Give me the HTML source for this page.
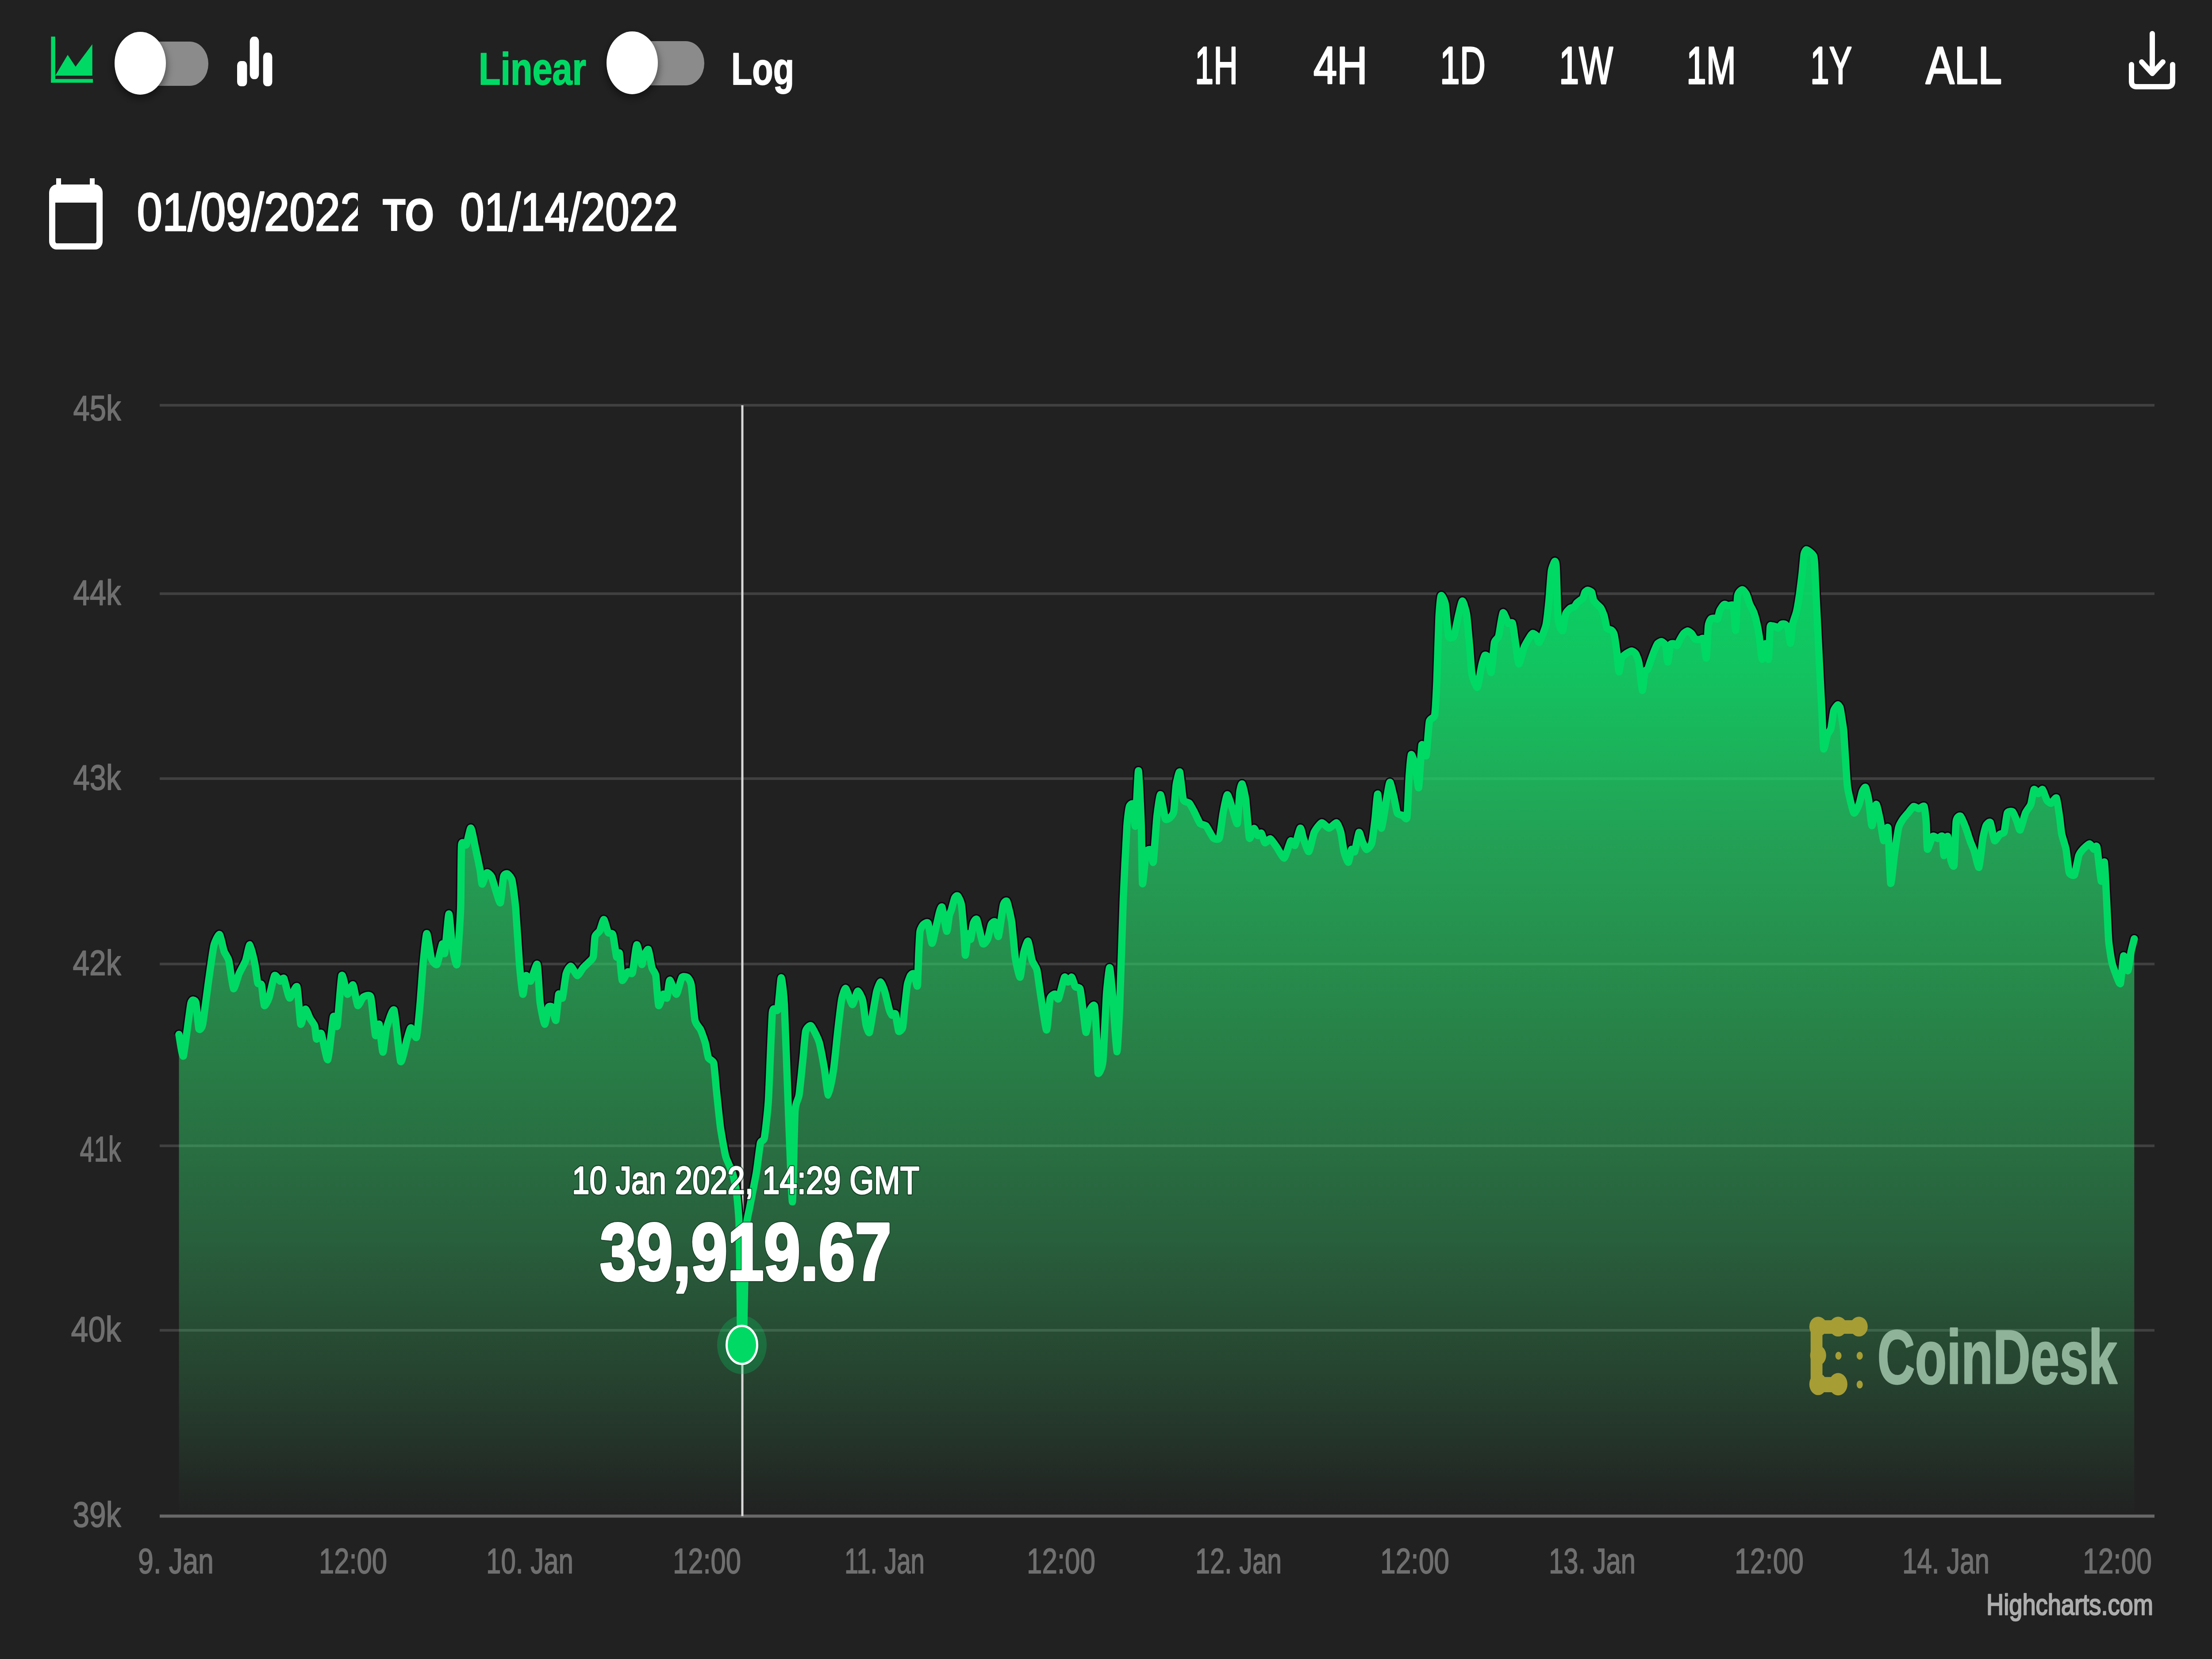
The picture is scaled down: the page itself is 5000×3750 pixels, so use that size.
<!DOCTYPE html>
<html><head><meta charset="utf-8"><title>Chart</title>
<style>html,body{margin:0;padding:0;background:#212121;}body{width:5000px;height:3750px;overflow:hidden;font-family:"Liberation Sans",sans-serif;}svg{display:block;}</style>
</head><body>
<svg width="5000" height="3750" viewBox="0 0 5000 3750" font-family="Liberation Sans, sans-serif">
<defs>
<linearGradient id="ag" gradientUnits="userSpaceOnUse" x1="0" y1="1243" x2="0" y2="3427">
<stop offset="0" stop-color="rgb(5,215,100)" stop-opacity="0.97"/>
<stop offset="0.12" stop-color="rgb(16,217,104)" stop-opacity="0.886"/>
<stop offset="0.303" stop-color="rgb(36,217,108)" stop-opacity="0.69"/>
<stop offset="0.531" stop-color="rgb(47,217,107)" stop-opacity="0.5"/>
<stop offset="0.714" stop-color="rgb(54,217,113)" stop-opacity="0.337"/>
<stop offset="0.851" stop-color="rgb(59,217,112)" stop-opacity="0.19"/>
<stop offset="1" stop-color="rgb(59,217,112)" stop-opacity="0"/>
</linearGradient>
<clipPath id="dclip"><rect x="280" y="380" width="529" height="200"/></clipPath>
<clipPath id="above"><path d="M404.5 2338.2 C405.4 2342.6 412.2 2393.0 414.6 2386.7 C417.0 2380.4 429.0 2278.6 431.5 2267.7 C434.0 2256.8 440.9 2260.4 442.5 2265.6 C444.1 2270.8 448.2 2321.1 449.6 2325.5 C451.0 2329.9 456.2 2324.3 458.1 2315.0 C460.0 2305.7 468.5 2238.1 470.8 2222.1 C473.1 2206.1 481.1 2147.6 483.4 2137.7 C485.7 2127.8 494.0 2111.3 496.1 2112.4 C498.2 2113.5 504.7 2145.1 506.6 2150.4 C508.5 2155.7 515.3 2163.9 517.2 2171.5 C519.1 2179.1 525.6 2232.1 527.7 2234.8 C529.8 2237.5 537.9 2206.7 540.4 2201.0 C542.9 2195.3 553.0 2177.4 555.2 2171.5 C557.4 2165.6 563.0 2134.8 564.9 2135.6 C566.8 2136.4 574.7 2172.1 576.3 2179.9 C577.9 2187.7 581.3 2217.9 582.6 2222.1 C583.9 2226.3 589.8 2221.7 591.1 2226.3 C592.4 2230.9 595.9 2270.1 597.4 2272.8 C598.9 2275.5 605.8 2262.0 607.9 2255.9 C610.0 2249.8 618.3 2208.6 620.6 2205.2 C622.9 2201.8 631.4 2217.3 633.3 2217.9 C635.2 2218.5 639.8 2208.2 641.7 2211.6 C643.6 2215.0 651.7 2254.2 654.4 2255.9 C657.1 2257.6 669.0 2225.3 671.3 2230.6 C673.6 2235.9 678.0 2310.4 679.7 2315.0 C681.4 2319.6 688.4 2282.3 690.3 2281.2 C692.2 2280.1 698.9 2298.9 700.8 2302.3 C702.7 2305.7 710.1 2315.0 711.4 2319.2 C712.7 2323.4 714.3 2347.3 715.6 2348.8 C716.9 2350.3 723.8 2331.9 726.1 2336.1 C728.4 2340.3 738.4 2398.6 740.9 2395.2 C743.4 2391.8 751.7 2304.9 753.6 2298.1 C755.5 2291.3 760.3 2327.6 762.0 2319.2 C763.7 2310.8 770.5 2211.7 772.6 2205.2 C774.7 2198.7 782.9 2245.5 785.2 2247.4 C787.5 2249.3 795.8 2224.0 797.9 2226.3 C800.0 2228.6 806.4 2270.3 808.5 2272.8 C810.6 2275.3 818.4 2255.5 821.1 2253.8 C823.8 2252.1 835.5 2246.0 838.0 2253.8 C840.5 2261.6 846.9 2334.8 848.6 2340.3 C850.3 2345.8 855.5 2311.6 857.0 2315.0 C858.5 2318.4 863.9 2377.5 865.4 2378.3 C866.9 2379.1 871.6 2332.0 873.9 2323.4 C876.2 2314.8 888.0 2276.5 890.8 2283.3 C893.6 2290.1 902.8 2393.5 905.5 2399.4 C908.2 2405.3 918.2 2355.6 920.3 2348.8 C922.4 2342.0 926.9 2323.8 928.8 2323.4 C930.7 2323.0 939.5 2349.8 941.4 2344.5 C943.3 2339.2 948.6 2279.1 949.9 2264.3 C951.2 2249.5 954.9 2193.8 956.2 2179.9 C957.5 2166.0 962.9 2111.4 964.6 2110.3 C966.3 2109.2 973.1 2160.9 975.2 2167.2 C977.3 2173.5 985.7 2182.9 987.9 2179.9 C990.1 2176.9 998.5 2135.8 1000.1 2133.5 C1001.7 2131.2 1004.0 2160.7 1005.3 2154.6 C1006.6 2148.5 1013.1 2067.4 1014.6 2065.9 C1016.1 2064.4 1020.6 2127.4 1022.2 2137.7 C1023.8 2148.0 1031.1 2187.5 1032.8 2179.9 C1034.5 2172.3 1040.3 2077.6 1041.2 2053.3 C1042.1 2029.0 1042.2 1922.7 1043.3 1909.8 C1044.4 1896.9 1052.0 1913.2 1053.9 1909.8 C1055.8 1906.4 1062.5 1871.0 1064.4 1871.8 C1066.3 1872.6 1073.1 1909.5 1075.0 1918.2 C1076.9 1926.9 1084.2 1961.6 1085.5 1968.8 C1086.8 1976.0 1088.5 1998.0 1089.8 1998.4 C1091.1 1998.8 1098.4 1974.6 1100.3 1973.1 C1102.2 1971.6 1109.0 1977.7 1110.9 1981.5 C1112.8 1985.3 1119.6 2010.0 1121.4 2015.3 C1123.2 2020.6 1129.6 2043.6 1131.1 2040.6 C1132.6 2037.6 1136.9 1987.4 1138.3 1981.5 C1139.7 1975.6 1145.0 1974.4 1146.7 1975.2 C1148.4 1976.0 1155.6 1983.0 1157.3 1990.0 C1159.0 1997.0 1164.2 2036.2 1165.7 2053.3 C1167.2 2070.4 1172.8 2162.4 1174.2 2179.9 C1175.6 2197.4 1180.5 2245.1 1181.8 2247.4 C1183.1 2249.7 1187.3 2207.9 1188.9 2205.2 C1190.5 2202.5 1197.2 2220.2 1199.5 2217.9 C1201.8 2215.6 1212.4 2175.7 1214.3 2179.9 C1216.2 2184.1 1219.1 2252.1 1220.6 2264.3 C1222.1 2276.5 1229.5 2313.9 1231.2 2315.0 C1232.9 2316.1 1238.1 2280.4 1239.6 2277.0 C1241.1 2273.6 1246.5 2274.3 1248.0 2277.0 C1249.5 2279.7 1255.2 2309.2 1256.5 2306.5 C1257.8 2303.8 1261.5 2252.0 1262.8 2247.4 C1264.1 2242.8 1269.8 2260.1 1271.3 2255.9 C1272.8 2251.7 1278.0 2207.5 1279.7 2201.0 C1281.4 2194.5 1288.0 2183.7 1290.3 2184.1 C1292.6 2184.5 1302.5 2204.8 1305.0 2205.2 C1307.5 2205.6 1315.4 2191.0 1317.7 2188.3 C1320.0 2185.6 1328.3 2178.0 1330.4 2175.7 C1332.5 2173.4 1339.6 2168.3 1340.9 2163.0 C1342.2 2157.7 1343.8 2121.9 1345.1 2116.6 C1346.4 2111.3 1353.9 2107.3 1355.7 2103.9 C1357.5 2100.5 1363.3 2078.2 1365.0 2078.6 C1366.7 2079.0 1372.9 2105.1 1374.7 2108.1 C1376.5 2111.1 1383.5 2107.5 1385.2 2112.4 C1386.9 2117.3 1392.4 2159.2 1393.7 2163.0 C1395.0 2166.8 1398.9 2149.8 1400.0 2154.6 C1401.1 2159.4 1404.6 2212.0 1406.3 2215.8 C1408.0 2219.6 1416.9 2198.3 1419.0 2196.8 C1421.1 2195.3 1427.8 2204.4 1429.6 2198.9 C1431.4 2193.4 1437.4 2137.3 1439.3 2135.6 C1441.2 2133.9 1449.3 2177.4 1450.7 2179.9 C1452.1 2182.4 1453.6 2166.0 1454.9 2163.0 C1456.2 2160.0 1463.7 2143.8 1465.4 2146.1 C1467.1 2148.4 1472.4 2183.0 1473.9 2188.3 C1475.4 2193.6 1481.0 2197.6 1482.3 2205.2 C1483.6 2212.8 1487.2 2269.0 1488.7 2272.8 C1490.2 2276.6 1497.5 2248.9 1499.2 2247.4 C1500.9 2245.9 1506.3 2258.7 1507.6 2255.9 C1508.9 2253.1 1512.1 2216.6 1514.0 2215.8 C1515.9 2215.0 1526.3 2248.0 1528.8 2247.4 C1531.3 2246.8 1539.1 2212.9 1541.4 2209.5 C1543.7 2206.1 1552.2 2208.0 1554.1 2209.5 C1556.0 2211.0 1561.0 2217.6 1562.5 2226.3 C1564.0 2235.0 1569.1 2297.4 1571.0 2306.5 C1572.9 2315.6 1581.5 2323.0 1583.6 2327.6 C1585.7 2332.2 1592.6 2351.5 1594.2 2357.2 C1595.8 2362.9 1599.5 2387.0 1601.2 2391.1 C1602.9 2395.2 1611.7 2396.7 1613.3 2403.2 C1614.9 2409.7 1617.9 2450.4 1619.3 2463.4 C1620.7 2476.4 1626.5 2534.2 1628.4 2547.8 C1630.3 2561.4 1638.0 2604.9 1640.4 2614.1 C1642.8 2623.3 1653.3 2643.2 1655.5 2650.3 C1657.7 2657.4 1663.1 2682.2 1664.5 2692.5 C1665.9 2702.8 1669.8 2743.1 1670.6 2764.8 C1671.4 2786.5 1672.7 2909.2 1673.0 2933.6 C1673.3 2958.0 1673.6 3026.9 1674.2 3036.1 C1674.8 3045.3 1679.4 3045.3 1680.2 3036.1 C1681.0 3026.9 1682.1 2956.9 1682.6 2933.6 C1683.1 2910.3 1685.1 2795.3 1686.2 2776.9 C1687.3 2758.5 1692.6 2740.1 1694.7 2728.7 C1696.8 2717.3 1707.5 2663.3 1709.7 2650.3 C1711.9 2637.3 1717.2 2591.1 1718.8 2584.0 C1720.4 2576.9 1726.2 2580.6 1727.8 2571.9 C1729.4 2563.2 1735.3 2513.1 1736.9 2487.6 C1738.5 2462.1 1744.0 2307.0 1745.9 2288.6 C1747.8 2270.2 1756.2 2289.6 1758.0 2282.6 C1759.8 2275.6 1764.5 2211.4 1765.8 2210.3 C1767.1 2209.2 1771.5 2243.5 1773.0 2270.6 C1774.5 2297.7 1780.5 2471.6 1782.1 2511.7 C1783.7 2551.8 1789.8 2716.6 1791.1 2716.6 C1792.4 2716.6 1795.7 2533.4 1797.1 2511.7 C1798.5 2490.0 1804.6 2486.4 1806.2 2475.5 C1807.8 2464.6 1813.9 2404.1 1815.2 2391.1 C1816.5 2378.1 1819.6 2337.3 1821.2 2330.8 C1822.8 2324.3 1830.6 2316.6 1833.3 2318.8 C1836.0 2321.0 1848.7 2346.2 1851.4 2354.9 C1854.1 2363.6 1861.5 2404.3 1863.4 2415.2 C1865.3 2426.1 1870.6 2475.5 1872.5 2475.5 C1874.4 2475.5 1882.6 2428.2 1884.5 2415.2 C1886.4 2402.2 1892.0 2344.9 1893.6 2330.8 C1895.2 2316.7 1901.0 2267.2 1902.6 2258.5 C1904.2 2249.8 1909.5 2233.3 1911.7 2234.4 C1913.9 2235.5 1924.3 2270.1 1926.7 2270.6 C1929.1 2271.1 1936.7 2241.2 1938.8 2240.4 C1940.9 2239.6 1948.3 2254.9 1950.0 2261.7 C1951.7 2268.5 1956.1 2309.5 1957.5 2316.0 C1958.9 2322.5 1963.7 2336.3 1965.1 2334.1 C1966.5 2331.9 1971.1 2300.3 1972.6 2291.9 C1974.1 2283.5 1980.1 2247.1 1981.7 2240.6 C1983.3 2234.1 1989.1 2219.5 1990.7 2219.5 C1992.3 2219.5 1997.9 2234.9 1999.7 2240.6 C2001.5 2246.3 2008.8 2277.9 2010.3 2282.8 C2011.8 2287.7 2015.1 2294.1 2016.3 2294.9 C2017.5 2295.7 2022.5 2288.7 2023.9 2291.9 C2025.3 2295.1 2029.9 2328.3 2031.4 2331.0 C2032.9 2333.7 2039.2 2326.9 2040.4 2322.0 C2041.6 2317.1 2044.0 2285.5 2045.0 2276.8 C2046.0 2268.1 2049.8 2232.0 2051.0 2225.5 C2052.2 2219.0 2057.1 2206.6 2058.5 2204.4 C2059.9 2202.2 2064.7 2199.2 2066.1 2201.4 C2067.5 2203.6 2072.7 2232.7 2073.6 2228.6 C2074.5 2224.5 2076.1 2167.3 2076.6 2156.2 C2077.1 2145.1 2078.6 2111.0 2079.6 2105.0 C2080.6 2099.0 2085.6 2091.5 2087.2 2089.9 C2088.8 2088.3 2095.9 2083.1 2097.7 2086.9 C2099.5 2090.7 2105.1 2131.3 2106.7 2132.1 C2108.3 2132.9 2114.3 2102.1 2115.8 2095.9 C2117.3 2089.7 2122.1 2066.9 2123.3 2062.8 C2124.5 2058.7 2127.9 2046.9 2129.4 2050.7 C2130.9 2054.5 2138.4 2103.4 2139.9 2105.0 C2141.4 2106.6 2144.9 2073.1 2145.9 2068.8 C2146.9 2064.5 2149.4 2060.2 2150.5 2056.7 C2151.6 2053.2 2156.7 2032.4 2158.0 2029.6 C2159.3 2026.8 2163.2 2023.7 2164.6 2025.1 C2166.0 2026.5 2171.8 2037.0 2173.1 2044.7 C2174.4 2052.4 2178.3 2100.7 2179.1 2111.0 C2179.9 2121.3 2181.3 2159.2 2182.1 2159.2 C2182.9 2159.2 2187.0 2114.2 2188.1 2111.0 C2189.2 2107.8 2193.1 2125.3 2194.2 2123.1 C2195.3 2120.9 2198.9 2090.9 2200.2 2086.9 C2201.5 2082.9 2206.2 2074.5 2208.1 2078.6 C2210.0 2082.7 2219.5 2129.0 2221.7 2132.9 C2223.9 2136.8 2230.9 2126.0 2232.6 2122.1 C2234.3 2118.2 2239.2 2092.9 2240.7 2089.5 C2242.2 2086.1 2247.3 2081.7 2248.8 2084.1 C2250.3 2086.5 2255.3 2120.0 2257.0 2116.6 C2258.7 2113.2 2266.1 2053.2 2267.8 2046.1 C2269.5 2039.0 2274.3 2034.6 2276.0 2038.0 C2277.7 2041.4 2285.1 2072.6 2286.8 2084.1 C2288.5 2095.6 2293.3 2154.3 2295.0 2165.5 C2296.7 2176.7 2304.1 2209.9 2305.8 2208.9 C2307.5 2207.9 2312.3 2161.9 2313.9 2154.6 C2315.5 2147.3 2322.0 2126.0 2323.7 2127.5 C2325.4 2129.0 2331.1 2165.0 2332.9 2170.9 C2334.7 2176.8 2342.1 2185.8 2343.8 2192.6 C2345.5 2199.4 2349.9 2234.7 2351.9 2246.9 C2353.9 2259.1 2363.5 2327.2 2365.5 2328.2 C2367.5 2329.2 2371.9 2265.0 2373.6 2257.7 C2375.3 2250.4 2382.8 2246.9 2384.5 2246.9 C2386.2 2246.9 2390.6 2261.1 2392.6 2257.7 C2394.6 2254.3 2404.2 2212.3 2406.2 2208.9 C2408.2 2205.5 2412.8 2219.7 2414.3 2219.7 C2415.8 2219.7 2421.0 2207.9 2422.5 2208.9 C2424.0 2209.9 2428.9 2228.2 2430.6 2230.6 C2432.3 2233.0 2439.8 2230.1 2441.5 2236.0 C2443.2 2241.9 2448.4 2286.9 2449.6 2295.7 C2450.8 2304.5 2453.8 2334.7 2455.0 2333.7 C2456.2 2332.7 2461.5 2290.2 2463.2 2284.8 C2464.9 2279.4 2472.5 2267.6 2474.0 2274.0 C2475.5 2280.4 2478.7 2341.7 2479.4 2355.4 C2480.1 2369.1 2480.9 2422.0 2482.1 2425.9 C2483.3 2429.8 2491.3 2414.9 2493.0 2398.8 C2494.7 2382.7 2499.7 2265.9 2501.1 2246.9 C2502.5 2227.9 2507.0 2187.2 2508.2 2187.2 C2509.4 2187.2 2513.2 2229.8 2514.7 2246.9 C2516.2 2264.0 2523.0 2374.7 2524.5 2377.1 C2526.0 2379.5 2529.7 2305.3 2531.0 2274.0 C2532.3 2242.7 2537.6 2066.4 2539.1 2029.8 C2540.6 1993.2 2546.1 1885.6 2547.3 1867.0 C2548.5 1848.4 2551.5 1828.0 2552.7 1823.6 C2553.9 1819.2 2559.6 1814.3 2560.8 1818.2 C2562.0 1822.1 2565.2 1873.8 2566.3 1867.0 C2567.4 1860.2 2572.1 1742.2 2573.3 1742.2 C2574.5 1742.2 2579.0 1844.0 2579.8 1867.0 C2580.6 1890.0 2581.5 1991.9 2582.5 1997.3 C2583.5 2002.7 2589.0 1933.5 2590.7 1926.7 C2592.4 1919.9 2600.0 1919.3 2601.5 1921.3 C2603.0 1923.3 2605.7 1955.2 2606.9 1948.4 C2608.1 1941.6 2613.6 1859.0 2615.1 1845.3 C2616.6 1831.6 2621.5 1796.0 2623.2 1796.5 C2624.9 1797.0 2632.1 1846.2 2634.1 1850.8 C2636.1 1855.4 2643.2 1849.5 2644.9 1848.0 C2646.6 1846.5 2651.9 1841.1 2653.1 1834.5 C2654.3 1827.9 2657.3 1782.9 2658.5 1774.8 C2659.7 1766.7 2665.1 1742.1 2666.6 1745.0 C2668.1 1747.9 2672.8 1801.1 2674.8 1807.4 C2676.8 1813.7 2686.1 1813.1 2688.3 1815.5 C2690.5 1817.9 2697.0 1830.4 2699.2 1834.5 C2701.4 1838.6 2710.4 1858.7 2712.8 1861.6 C2715.2 1864.5 2723.6 1864.1 2726.3 1867.0 C2729.0 1869.9 2739.9 1891.8 2742.6 1894.2 C2745.3 1896.6 2754.2 1899.1 2756.2 1894.2 C2758.2 1889.3 2762.7 1848.7 2764.3 1839.9 C2765.9 1831.1 2772.1 1797.5 2774.1 1796.5 C2776.1 1795.5 2783.9 1823.2 2786.0 1829.1 C2788.1 1835.0 2795.4 1865.0 2796.9 1861.6 C2798.4 1858.2 2801.3 1799.2 2802.3 1791.1 C2803.3 1783.0 2806.5 1770.6 2807.7 1772.1 C2808.9 1773.6 2814.3 1796.4 2815.8 1807.4 C2817.3 1818.4 2822.3 1888.3 2824.0 1894.2 C2825.7 1900.1 2833.1 1873.0 2834.8 1872.5 C2836.5 1872.0 2841.5 1887.7 2843.0 1888.7 C2844.5 1889.7 2849.6 1881.8 2851.1 1883.3 C2852.6 1884.8 2857.4 1903.8 2859.3 1905.0 C2861.2 1906.2 2869.3 1895.2 2871.7 1896.1 C2874.1 1897.0 2883.4 1911.5 2886.2 1915.4 C2889.0 1919.3 2900.2 1940.8 2903.0 1939.5 C2905.8 1938.2 2915.3 1903.5 2917.5 1900.9 C2919.7 1898.3 2925.1 1913.2 2927.1 1910.6 C2929.1 1908.0 2937.5 1873.3 2939.2 1872.0 C2940.9 1870.7 2944.7 1891.3 2946.4 1896.1 C2948.1 1900.9 2956.3 1926.3 2958.5 1925.0 C2960.7 1923.7 2967.9 1887.5 2970.5 1881.6 C2973.1 1875.7 2984.4 1860.8 2987.4 1859.9 C2990.4 1859.0 3001.3 1872.0 3004.3 1872.0 C3007.3 1872.0 3018.8 1859.0 3021.2 1859.9 C3023.6 1860.8 3029.3 1875.7 3030.8 1881.6 C3032.3 1887.5 3036.5 1918.9 3038.0 1925.0 C3039.5 1931.1 3046.2 1949.5 3047.7 1949.1 C3049.2 1948.7 3053.6 1922.4 3054.9 1920.2 C3056.2 1918.0 3060.7 1928.5 3062.2 1925.0 C3063.7 1921.5 3070.3 1883.8 3071.8 1881.6 C3073.3 1879.4 3077.5 1897.4 3079.0 1900.9 C3080.5 1904.4 3086.7 1919.8 3088.7 1920.2 C3090.7 1920.6 3099.0 1911.8 3100.7 1905.7 C3102.4 1899.6 3106.8 1862.7 3108.0 1852.7 C3109.2 1842.7 3112.9 1793.1 3114.2 1794.8 C3115.5 1796.5 3120.6 1871.1 3122.4 1872.0 C3124.2 1872.9 3132.8 1813.8 3134.5 1804.5 C3136.2 1795.2 3140.2 1768.3 3141.7 1768.3 C3143.2 1768.3 3149.9 1798.2 3151.4 1804.5 C3152.9 1810.8 3156.9 1834.7 3158.6 1838.2 C3160.3 1841.7 3168.6 1842.2 3170.6 1843.1 C3172.6 1844.0 3179.0 1855.7 3180.3 1847.9 C3181.6 1840.1 3184.2 1769.1 3185.1 1756.3 C3186.0 1743.5 3188.6 1707.8 3189.9 1705.6 C3191.2 1703.4 3198.1 1725.5 3199.6 1732.2 C3201.1 1738.9 3205.5 1784.7 3206.8 1780.4 C3208.1 1776.1 3212.5 1690.4 3214.0 1683.9 C3215.5 1677.4 3222.2 1712.9 3223.7 1708.1 C3225.2 1703.3 3229.2 1639.2 3230.9 1630.9 C3232.6 1622.6 3241.5 1624.6 3243.0 1616.4 C3244.5 1608.2 3246.9 1559.3 3247.8 1539.3 C3248.7 1519.3 3251.7 1412.0 3252.6 1394.6 C3253.5 1377.2 3256.1 1349.0 3257.4 1346.4 C3258.7 1343.8 3265.6 1357.5 3267.1 1365.7 C3268.6 1373.9 3272.6 1431.5 3274.3 1438.0 C3276.0 1444.5 3284.4 1441.9 3286.4 1438.0 C3288.4 1434.1 3294.3 1401.8 3296.0 1394.6 C3297.7 1387.4 3303.9 1358.9 3305.6 1358.5 C3307.3 1358.1 3313.8 1380.0 3315.3 1389.8 C3316.8 1399.6 3321.4 1454.8 3322.5 1467.0 C3323.6 1479.2 3325.8 1517.0 3327.3 1524.8 C3328.8 1532.6 3337.4 1555.5 3339.4 1553.8 C3341.4 1552.1 3347.5 1512.0 3349.0 1505.5 C3350.5 1499.0 3355.0 1483.1 3356.3 1481.4 C3357.6 1479.7 3362.2 1482.8 3363.5 1486.3 C3364.8 1489.8 3369.4 1523.0 3370.7 1520.0 C3372.0 1517.0 3376.5 1459.9 3378.0 1452.5 C3379.5 1445.1 3385.9 1444.1 3387.6 1438.0 C3389.3 1431.9 3395.3 1387.6 3397.3 1385.0 C3399.3 1382.4 3407.4 1406.9 3409.3 1409.1 C3411.2 1411.3 3417.4 1404.8 3418.9 1409.1 C3420.4 1413.4 3424.9 1449.1 3426.2 1457.3 C3427.5 1465.5 3431.7 1500.3 3433.4 1500.7 C3435.1 1501.1 3443.2 1467.8 3445.5 1462.2 C3447.8 1456.6 3457.3 1441.0 3459.0 1438.3 C3460.7 1435.6 3463.5 1431.8 3464.8 1431.7 C3466.1 1431.6 3471.6 1435.3 3472.9 1437.1 C3474.2 1438.9 3477.5 1454.1 3479.5 1451.9 C3481.5 1449.7 3492.6 1421.1 3494.6 1412.7 C3496.6 1404.3 3500.1 1369.4 3501.2 1358.4 C3502.3 1347.4 3505.5 1298.7 3506.7 1290.6 C3507.9 1282.5 3513.5 1269.9 3514.5 1268.9 C3515.5 1267.9 3517.0 1273.4 3517.5 1279.5 C3518.0 1285.6 3519.2 1325.9 3519.6 1336.7 C3520.0 1347.5 3521.0 1391.6 3521.7 1399.1 C3522.4 1406.6 3525.9 1417.3 3526.9 1419.6 C3527.9 1421.9 3531.5 1427.5 3532.6 1424.7 C3533.7 1421.9 3537.4 1392.5 3538.9 1388.0 C3540.4 1383.5 3547.7 1376.4 3549.5 1375.0 C3551.3 1373.6 3557.2 1373.1 3558.5 1372.0 C3559.8 1370.9 3563.3 1364.3 3564.5 1362.9 C3565.7 1361.5 3570.9 1357.8 3572.1 1356.9 C3573.3 1356.0 3577.2 1354.0 3578.1 1352.4 C3579.0 1350.8 3581.7 1340.4 3582.6 1338.8 C3583.5 1337.2 3587.2 1334.3 3588.6 1334.3 C3590.0 1334.3 3596.5 1336.8 3597.7 1338.8 C3598.9 1340.8 3601.1 1354.5 3602.2 1356.9 C3603.3 1359.3 3608.2 1364.4 3609.7 1366.0 C3611.2 1367.6 3617.3 1372.6 3618.8 1375.0 C3620.3 1377.4 3625.1 1389.0 3626.3 1393.1 C3627.5 1397.2 3630.8 1417.4 3632.3 1420.2 C3633.8 1423.0 3641.4 1423.3 3642.9 1424.7 C3644.4 1426.1 3647.8 1430.7 3648.9 1435.3 C3650.0 1439.9 3653.9 1467.9 3654.9 1475.4 C3655.9 1482.9 3658.5 1517.4 3659.5 1518.5 C3660.5 1519.6 3664.0 1491.1 3665.5 1487.4 C3667.0 1483.7 3674.0 1478.9 3676.0 1477.5 C3678.0 1476.1 3686.2 1471.4 3688.1 1471.4 C3690.0 1471.4 3695.6 1475.1 3697.1 1477.5 C3698.6 1479.9 3703.3 1491.1 3704.7 1498.6 C3706.1 1506.1 3711.0 1559.0 3712.2 1560.7 C3713.4 1562.4 3717.1 1521.8 3718.2 1517.6 C3719.3 1513.4 3723.2 1515.6 3724.3 1513.6 C3725.4 1511.6 3729.0 1499.4 3730.3 1495.6 C3731.7 1491.8 3737.8 1475.1 3739.3 1471.4 C3740.8 1467.7 3745.4 1456.8 3746.9 1454.9 C3748.4 1453.0 3754.3 1449.9 3755.9 1450.3 C3757.5 1450.7 3763.6 1455.2 3764.9 1459.4 C3766.2 1463.6 3769.1 1496.6 3770.1 1496.5 C3771.1 1496.4 3774.3 1461.6 3775.5 1457.9 C3776.7 1454.2 3781.6 1454.8 3783.0 1454.9 C3784.4 1455.0 3789.4 1460.1 3790.6 1459.4 C3791.8 1458.7 3795.2 1449.7 3796.6 1447.3 C3797.9 1444.9 3804.0 1434.2 3805.6 1432.3 C3807.2 1430.4 3813.1 1426.2 3814.7 1426.2 C3816.3 1426.2 3822.2 1430.7 3823.7 1432.3 C3825.2 1433.9 3829.7 1443.1 3831.3 1444.3 C3832.9 1445.5 3840.0 1445.8 3841.8 1445.8 C3843.6 1445.8 3849.4 1440.6 3850.8 1444.3 C3852.2 1448.0 3855.9 1490.0 3856.9 1487.4 C3857.9 1484.8 3860.5 1423.0 3861.4 1415.1 C3862.3 1407.2 3866.2 1400.7 3867.4 1399.1 C3868.6 1397.5 3873.6 1397.6 3875.0 1397.6 C3876.4 1397.6 3881.4 1400.6 3882.5 1399.1 C3883.6 1397.6 3885.9 1383.7 3887.0 1381.0 C3888.1 1378.3 3893.4 1370.3 3894.5 1369.0 C3895.6 1367.7 3898.1 1366.0 3899.1 1366.0 C3900.1 1366.0 3904.7 1369.1 3906.1 1369.2 C3907.5 1369.3 3914.0 1367.2 3915.1 1367.4 C3916.2 1367.6 3918.0 1366.6 3918.7 1371.8 C3919.4 1377.0 3922.6 1427.2 3923.4 1424.9 C3924.2 1422.6 3926.4 1354.7 3927.8 1346.4 C3929.2 1338.1 3936.8 1333.2 3938.6 1333.0 C3940.4 1332.8 3946.2 1341.0 3947.7 1343.9 C3949.2 1346.8 3953.4 1362.0 3954.9 1365.6 C3956.4 1369.2 3962.5 1379.8 3964.0 1383.7 C3965.5 1387.6 3970.1 1404.1 3971.2 1409.0 C3972.3 1413.9 3975.5 1430.7 3976.6 1438.0 C3977.7 1445.3 3981.9 1488.6 3983.1 1490.1 C3984.3 1491.6 3989.1 1455.0 3990.4 1455.0 C3991.7 1455.0 3996.6 1493.4 3997.6 1490.1 C3998.6 1486.8 4000.6 1425.6 4001.2 1418.8 C4001.8 1412.0 4002.8 1414.6 4003.8 1414.4 C4004.8 1414.2 4011.3 1415.8 4012.8 1416.3 C4014.3 1416.8 4018.7 1420.4 4020.0 1419.9 C4021.3 1419.4 4026.0 1411.6 4027.3 1410.8 C4028.6 1410.0 4033.2 1410.0 4034.5 1410.8 C4035.8 1411.6 4040.7 1416.0 4041.8 1419.9 C4042.9 1423.8 4046.3 1454.7 4047.2 1453.9 C4048.1 1453.1 4050.7 1417.9 4051.9 1411.5 C4053.1 1405.1 4059.4 1389.1 4060.9 1382.6 C4062.4 1376.1 4067.1 1347.0 4068.2 1339.2 C4069.3 1331.4 4072.7 1303.6 4073.6 1295.8 C4074.5 1288.0 4077.0 1257.2 4077.9 1252.4 C4078.8 1247.6 4082.1 1242.9 4083.4 1242.6 C4084.7 1242.3 4090.9 1247.4 4092.4 1248.7 C4093.9 1250.0 4098.8 1254.8 4099.6 1257.1 C4100.4 1259.4 4101.4 1268.0 4101.8 1274.1 C4102.2 1280.2 4103.5 1313.6 4104.0 1324.7 C4104.5 1335.8 4107.0 1384.1 4107.6 1397.1 C4108.2 1410.1 4110.6 1456.4 4111.2 1469.4 C4111.8 1482.4 4114.1 1528.8 4114.8 1541.8 C4115.5 1554.8 4117.8 1600.6 4118.5 1614.2 C4119.2 1627.8 4121.0 1688.5 4122.1 1692.7 C4123.2 1696.9 4128.9 1665.3 4130.4 1661.2 C4131.9 1657.1 4137.4 1651.6 4138.7 1646.7 C4140.0 1641.8 4143.5 1611.7 4144.9 1606.9 C4146.3 1602.1 4152.6 1594.1 4153.9 1593.5 C4155.2 1592.9 4158.6 1597.8 4159.3 1599.7 C4160.0 1601.6 4161.2 1609.6 4161.9 1614.2 C4162.6 1618.8 4166.5 1642.2 4167.3 1650.3 C4168.1 1658.4 4170.1 1692.9 4170.9 1704.6 C4171.7 1716.3 4174.6 1768.2 4176.3 1780.2 C4178.0 1792.2 4188.0 1834.1 4190.3 1837.5 C4192.6 1840.9 4200.6 1822.5 4202.3 1818.2 C4204.0 1813.9 4208.3 1792.8 4209.6 1789.3 C4210.9 1785.8 4215.5 1778.0 4216.8 1779.7 C4218.1 1781.4 4222.7 1800.8 4224.0 1808.6 C4225.3 1816.4 4229.8 1865.5 4231.3 1866.4 C4232.8 1867.3 4239.2 1819.1 4240.9 1818.2 C4242.6 1817.3 4249.0 1849.4 4250.5 1856.8 C4252.0 1864.2 4256.3 1898.9 4257.8 1900.2 C4259.3 1901.5 4266.0 1862.6 4267.4 1871.3 C4268.8 1880.0 4272.4 1991.0 4273.7 1996.6 C4275.0 2002.2 4280.3 1945.2 4281.9 1933.9 C4283.5 1922.6 4289.8 1878.7 4291.5 1871.3 C4293.2 1863.9 4299.2 1855.0 4301.2 1852.0 C4303.2 1849.0 4311.0 1840.1 4313.2 1837.5 C4315.4 1834.9 4323.1 1823.9 4325.3 1823.0 C4327.5 1822.1 4335.1 1827.9 4337.3 1827.9 C4339.5 1827.9 4347.9 1820.0 4349.4 1823.0 C4350.9 1826.0 4353.6 1852.9 4354.2 1861.6 C4354.8 1870.3 4355.3 1916.9 4356.6 1919.5 C4357.9 1922.1 4366.5 1892.7 4368.7 1890.5 C4370.9 1888.3 4378.7 1895.4 4380.7 1895.4 C4382.7 1895.4 4389.2 1887.0 4390.4 1890.5 C4391.6 1894.0 4393.1 1933.9 4394.2 1933.9 C4395.3 1933.9 4401.0 1889.6 4402.4 1890.5 C4403.8 1891.4 4408.4 1937.7 4409.7 1943.6 C4411.0 1949.5 4415.8 1963.4 4416.9 1955.6 C4418.0 1947.8 4420.4 1866.8 4421.7 1856.8 C4423.0 1846.8 4429.4 1843.4 4431.4 1844.7 C4433.4 1846.0 4441.5 1866.3 4443.4 1871.3 C4445.3 1876.3 4451.3 1895.4 4453.0 1900.2 C4454.7 1905.0 4460.9 1918.9 4462.7 1924.3 C4464.5 1929.7 4471.6 1963.1 4473.3 1960.5 C4475.0 1957.9 4480.6 1903.9 4482.0 1895.4 C4483.4 1886.9 4487.7 1869.7 4489.2 1866.4 C4490.7 1863.1 4497.2 1856.2 4498.9 1859.2 C4500.6 1862.2 4506.6 1897.8 4508.5 1900.2 C4510.4 1902.6 4518.5 1887.4 4520.5 1885.7 C4522.5 1884.0 4528.7 1885.2 4530.2 1880.9 C4531.7 1876.6 4535.7 1841.6 4537.4 1837.5 C4539.1 1833.4 4547.5 1833.4 4549.5 1835.1 C4551.5 1836.8 4557.6 1853.1 4559.1 1856.8 C4560.6 1860.5 4564.7 1877.8 4566.4 1876.1 C4568.1 1874.4 4576.2 1842.7 4578.4 1837.5 C4580.6 1832.3 4588.8 1823.0 4590.5 1818.2 C4592.2 1813.4 4596.2 1786.7 4597.7 1784.5 C4599.2 1782.3 4605.6 1794.1 4607.3 1794.1 C4609.0 1794.1 4615.3 1783.2 4617.0 1784.5 C4618.7 1785.8 4624.9 1805.8 4626.6 1808.6 C4628.3 1811.4 4634.3 1816.2 4636.3 1815.8 C4638.3 1815.4 4646.6 1801.0 4648.3 1803.8 C4650.0 1806.6 4654.5 1839.8 4655.6 1847.2 C4656.7 1854.6 4659.1 1879.2 4660.4 1885.7 C4661.7 1892.2 4668.5 1911.7 4670.0 1919.5 C4671.5 1927.3 4675.6 1967.3 4677.3 1972.5 C4679.0 1977.7 4687.4 1980.8 4689.3 1977.3 C4691.2 1973.8 4697.2 1939.1 4698.9 1933.9 C4700.6 1928.7 4706.4 1921.9 4708.6 1919.5 C4710.8 1917.1 4720.9 1907.4 4723.1 1907.4 C4725.3 1907.4 4731.2 1918.8 4732.7 1919.5 C4734.2 1920.2 4738.4 1908.2 4739.9 1914.7 C4741.4 1921.2 4748.1 1988.8 4749.6 1991.8 C4751.1 1994.8 4755.7 1944.9 4756.8 1948.4 C4757.9 1951.9 4760.7 2014.3 4761.6 2030.4 C4762.5 2046.5 4765.4 2113.8 4766.5 2126.8 C4767.6 2139.8 4772.2 2168.1 4773.7 2175.0 C4775.2 2181.9 4781.6 2199.7 4783.3 2204.0 C4785.0 2208.3 4791.5 2227.1 4793.0 2223.2 C4794.5 2219.3 4798.7 2163.2 4800.2 2160.6 C4801.7 2158.0 4808.3 2195.2 4809.8 2194.3 C4811.3 2193.4 4815.8 2157.4 4817.1 2150.9 C4818.4 2144.4 4823.7 2124.6 4824.3 2122.0 L4864.3 2122.0 L4864.3 800 L364.5 800 L364.5 2338.2 Z"/></clipPath>
<filter id="ksh" x="-50%" y="-50%" width="200%" height="200%"><feGaussianBlur stdDeviation="9"/></filter>
</defs>
<rect width="5000" height="3750" fill="#212121"/>
<rect x="361" y="913" width="4509" height="6" fill="#404040"/>
<rect x="361" y="1339" width="4509" height="6" fill="#404040"/>
<rect x="361" y="1757" width="4509" height="6" fill="#404040"/>
<rect x="361" y="2176" width="4509" height="6" fill="#404040"/>
<rect x="361" y="2587" width="4509" height="6" fill="#404040"/>
<rect x="361" y="3004" width="4509" height="6" fill="#404040"/>
<path d="M404.5 2338.2 C405.4 2342.6 412.2 2393.0 414.6 2386.7 C417.0 2380.4 429.0 2278.6 431.5 2267.7 C434.0 2256.8 440.9 2260.4 442.5 2265.6 C444.1 2270.8 448.2 2321.1 449.6 2325.5 C451.0 2329.9 456.2 2324.3 458.1 2315.0 C460.0 2305.7 468.5 2238.1 470.8 2222.1 C473.1 2206.1 481.1 2147.6 483.4 2137.7 C485.7 2127.8 494.0 2111.3 496.1 2112.4 C498.2 2113.5 504.7 2145.1 506.6 2150.4 C508.5 2155.7 515.3 2163.9 517.2 2171.5 C519.1 2179.1 525.6 2232.1 527.7 2234.8 C529.8 2237.5 537.9 2206.7 540.4 2201.0 C542.9 2195.3 553.0 2177.4 555.2 2171.5 C557.4 2165.6 563.0 2134.8 564.9 2135.6 C566.8 2136.4 574.7 2172.1 576.3 2179.9 C577.9 2187.7 581.3 2217.9 582.6 2222.1 C583.9 2226.3 589.8 2221.7 591.1 2226.3 C592.4 2230.9 595.9 2270.1 597.4 2272.8 C598.9 2275.5 605.8 2262.0 607.9 2255.9 C610.0 2249.8 618.3 2208.6 620.6 2205.2 C622.9 2201.8 631.4 2217.3 633.3 2217.9 C635.2 2218.5 639.8 2208.2 641.7 2211.6 C643.6 2215.0 651.7 2254.2 654.4 2255.9 C657.1 2257.6 669.0 2225.3 671.3 2230.6 C673.6 2235.9 678.0 2310.4 679.7 2315.0 C681.4 2319.6 688.4 2282.3 690.3 2281.2 C692.2 2280.1 698.9 2298.9 700.8 2302.3 C702.7 2305.7 710.1 2315.0 711.4 2319.2 C712.7 2323.4 714.3 2347.3 715.6 2348.8 C716.9 2350.3 723.8 2331.9 726.1 2336.1 C728.4 2340.3 738.4 2398.6 740.9 2395.2 C743.4 2391.8 751.7 2304.9 753.6 2298.1 C755.5 2291.3 760.3 2327.6 762.0 2319.2 C763.7 2310.8 770.5 2211.7 772.6 2205.2 C774.7 2198.7 782.9 2245.5 785.2 2247.4 C787.5 2249.3 795.8 2224.0 797.9 2226.3 C800.0 2228.6 806.4 2270.3 808.5 2272.8 C810.6 2275.3 818.4 2255.5 821.1 2253.8 C823.8 2252.1 835.5 2246.0 838.0 2253.8 C840.5 2261.6 846.9 2334.8 848.6 2340.3 C850.3 2345.8 855.5 2311.6 857.0 2315.0 C858.5 2318.4 863.9 2377.5 865.4 2378.3 C866.9 2379.1 871.6 2332.0 873.9 2323.4 C876.2 2314.8 888.0 2276.5 890.8 2283.3 C893.6 2290.1 902.8 2393.5 905.5 2399.4 C908.2 2405.3 918.2 2355.6 920.3 2348.8 C922.4 2342.0 926.9 2323.8 928.8 2323.4 C930.7 2323.0 939.5 2349.8 941.4 2344.5 C943.3 2339.2 948.6 2279.1 949.9 2264.3 C951.2 2249.5 954.9 2193.8 956.2 2179.9 C957.5 2166.0 962.9 2111.4 964.6 2110.3 C966.3 2109.2 973.1 2160.9 975.2 2167.2 C977.3 2173.5 985.7 2182.9 987.9 2179.9 C990.1 2176.9 998.5 2135.8 1000.1 2133.5 C1001.7 2131.2 1004.0 2160.7 1005.3 2154.6 C1006.6 2148.5 1013.1 2067.4 1014.6 2065.9 C1016.1 2064.4 1020.6 2127.4 1022.2 2137.7 C1023.8 2148.0 1031.1 2187.5 1032.8 2179.9 C1034.5 2172.3 1040.3 2077.6 1041.2 2053.3 C1042.1 2029.0 1042.2 1922.7 1043.3 1909.8 C1044.4 1896.9 1052.0 1913.2 1053.9 1909.8 C1055.8 1906.4 1062.5 1871.0 1064.4 1871.8 C1066.3 1872.6 1073.1 1909.5 1075.0 1918.2 C1076.9 1926.9 1084.2 1961.6 1085.5 1968.8 C1086.8 1976.0 1088.5 1998.0 1089.8 1998.4 C1091.1 1998.8 1098.4 1974.6 1100.3 1973.1 C1102.2 1971.6 1109.0 1977.7 1110.9 1981.5 C1112.8 1985.3 1119.6 2010.0 1121.4 2015.3 C1123.2 2020.6 1129.6 2043.6 1131.1 2040.6 C1132.6 2037.6 1136.9 1987.4 1138.3 1981.5 C1139.7 1975.6 1145.0 1974.4 1146.7 1975.2 C1148.4 1976.0 1155.6 1983.0 1157.3 1990.0 C1159.0 1997.0 1164.2 2036.2 1165.7 2053.3 C1167.2 2070.4 1172.8 2162.4 1174.2 2179.9 C1175.6 2197.4 1180.5 2245.1 1181.8 2247.4 C1183.1 2249.7 1187.3 2207.9 1188.9 2205.2 C1190.5 2202.5 1197.2 2220.2 1199.5 2217.9 C1201.8 2215.6 1212.4 2175.7 1214.3 2179.9 C1216.2 2184.1 1219.1 2252.1 1220.6 2264.3 C1222.1 2276.5 1229.5 2313.9 1231.2 2315.0 C1232.9 2316.1 1238.1 2280.4 1239.6 2277.0 C1241.1 2273.6 1246.5 2274.3 1248.0 2277.0 C1249.5 2279.7 1255.2 2309.2 1256.5 2306.5 C1257.8 2303.8 1261.5 2252.0 1262.8 2247.4 C1264.1 2242.8 1269.8 2260.1 1271.3 2255.9 C1272.8 2251.7 1278.0 2207.5 1279.7 2201.0 C1281.4 2194.5 1288.0 2183.7 1290.3 2184.1 C1292.6 2184.5 1302.5 2204.8 1305.0 2205.2 C1307.5 2205.6 1315.4 2191.0 1317.7 2188.3 C1320.0 2185.6 1328.3 2178.0 1330.4 2175.7 C1332.5 2173.4 1339.6 2168.3 1340.9 2163.0 C1342.2 2157.7 1343.8 2121.9 1345.1 2116.6 C1346.4 2111.3 1353.9 2107.3 1355.7 2103.9 C1357.5 2100.5 1363.3 2078.2 1365.0 2078.6 C1366.7 2079.0 1372.9 2105.1 1374.7 2108.1 C1376.5 2111.1 1383.5 2107.5 1385.2 2112.4 C1386.9 2117.3 1392.4 2159.2 1393.7 2163.0 C1395.0 2166.8 1398.9 2149.8 1400.0 2154.6 C1401.1 2159.4 1404.6 2212.0 1406.3 2215.8 C1408.0 2219.6 1416.9 2198.3 1419.0 2196.8 C1421.1 2195.3 1427.8 2204.4 1429.6 2198.9 C1431.4 2193.4 1437.4 2137.3 1439.3 2135.6 C1441.2 2133.9 1449.3 2177.4 1450.7 2179.9 C1452.1 2182.4 1453.6 2166.0 1454.9 2163.0 C1456.2 2160.0 1463.7 2143.8 1465.4 2146.1 C1467.1 2148.4 1472.4 2183.0 1473.9 2188.3 C1475.4 2193.6 1481.0 2197.6 1482.3 2205.2 C1483.6 2212.8 1487.2 2269.0 1488.7 2272.8 C1490.2 2276.6 1497.5 2248.9 1499.2 2247.4 C1500.9 2245.9 1506.3 2258.7 1507.6 2255.9 C1508.9 2253.1 1512.1 2216.6 1514.0 2215.8 C1515.9 2215.0 1526.3 2248.0 1528.8 2247.4 C1531.3 2246.8 1539.1 2212.9 1541.4 2209.5 C1543.7 2206.1 1552.2 2208.0 1554.1 2209.5 C1556.0 2211.0 1561.0 2217.6 1562.5 2226.3 C1564.0 2235.0 1569.1 2297.4 1571.0 2306.5 C1572.9 2315.6 1581.5 2323.0 1583.6 2327.6 C1585.7 2332.2 1592.6 2351.5 1594.2 2357.2 C1595.8 2362.9 1599.5 2387.0 1601.2 2391.1 C1602.9 2395.2 1611.7 2396.7 1613.3 2403.2 C1614.9 2409.7 1617.9 2450.4 1619.3 2463.4 C1620.7 2476.4 1626.5 2534.2 1628.4 2547.8 C1630.3 2561.4 1638.0 2604.9 1640.4 2614.1 C1642.8 2623.3 1653.3 2643.2 1655.5 2650.3 C1657.7 2657.4 1663.1 2682.2 1664.5 2692.5 C1665.9 2702.8 1669.8 2743.1 1670.6 2764.8 C1671.4 2786.5 1672.7 2909.2 1673.0 2933.6 C1673.3 2958.0 1673.6 3026.9 1674.2 3036.1 C1674.8 3045.3 1679.4 3045.3 1680.2 3036.1 C1681.0 3026.9 1682.1 2956.9 1682.6 2933.6 C1683.1 2910.3 1685.1 2795.3 1686.2 2776.9 C1687.3 2758.5 1692.6 2740.1 1694.7 2728.7 C1696.8 2717.3 1707.5 2663.3 1709.7 2650.3 C1711.9 2637.3 1717.2 2591.1 1718.8 2584.0 C1720.4 2576.9 1726.2 2580.6 1727.8 2571.9 C1729.4 2563.2 1735.3 2513.1 1736.9 2487.6 C1738.5 2462.1 1744.0 2307.0 1745.9 2288.6 C1747.8 2270.2 1756.2 2289.6 1758.0 2282.6 C1759.8 2275.6 1764.5 2211.4 1765.8 2210.3 C1767.1 2209.2 1771.5 2243.5 1773.0 2270.6 C1774.5 2297.7 1780.5 2471.6 1782.1 2511.7 C1783.7 2551.8 1789.8 2716.6 1791.1 2716.6 C1792.4 2716.6 1795.7 2533.4 1797.1 2511.7 C1798.5 2490.0 1804.6 2486.4 1806.2 2475.5 C1807.8 2464.6 1813.9 2404.1 1815.2 2391.1 C1816.5 2378.1 1819.6 2337.3 1821.2 2330.8 C1822.8 2324.3 1830.6 2316.6 1833.3 2318.8 C1836.0 2321.0 1848.7 2346.2 1851.4 2354.9 C1854.1 2363.6 1861.5 2404.3 1863.4 2415.2 C1865.3 2426.1 1870.6 2475.5 1872.5 2475.5 C1874.4 2475.5 1882.6 2428.2 1884.5 2415.2 C1886.4 2402.2 1892.0 2344.9 1893.6 2330.8 C1895.2 2316.7 1901.0 2267.2 1902.6 2258.5 C1904.2 2249.8 1909.5 2233.3 1911.7 2234.4 C1913.9 2235.5 1924.3 2270.1 1926.7 2270.6 C1929.1 2271.1 1936.7 2241.2 1938.8 2240.4 C1940.9 2239.6 1948.3 2254.9 1950.0 2261.7 C1951.7 2268.5 1956.1 2309.5 1957.5 2316.0 C1958.9 2322.5 1963.7 2336.3 1965.1 2334.1 C1966.5 2331.9 1971.1 2300.3 1972.6 2291.9 C1974.1 2283.5 1980.1 2247.1 1981.7 2240.6 C1983.3 2234.1 1989.1 2219.5 1990.7 2219.5 C1992.3 2219.5 1997.9 2234.9 1999.7 2240.6 C2001.5 2246.3 2008.8 2277.9 2010.3 2282.8 C2011.8 2287.7 2015.1 2294.1 2016.3 2294.9 C2017.5 2295.7 2022.5 2288.7 2023.9 2291.9 C2025.3 2295.1 2029.9 2328.3 2031.4 2331.0 C2032.9 2333.7 2039.2 2326.9 2040.4 2322.0 C2041.6 2317.1 2044.0 2285.5 2045.0 2276.8 C2046.0 2268.1 2049.8 2232.0 2051.0 2225.5 C2052.2 2219.0 2057.1 2206.6 2058.5 2204.4 C2059.9 2202.2 2064.7 2199.2 2066.1 2201.4 C2067.5 2203.6 2072.7 2232.7 2073.6 2228.6 C2074.5 2224.5 2076.1 2167.3 2076.6 2156.2 C2077.1 2145.1 2078.6 2111.0 2079.6 2105.0 C2080.6 2099.0 2085.6 2091.5 2087.2 2089.9 C2088.8 2088.3 2095.9 2083.1 2097.7 2086.9 C2099.5 2090.7 2105.1 2131.3 2106.7 2132.1 C2108.3 2132.9 2114.3 2102.1 2115.8 2095.9 C2117.3 2089.7 2122.1 2066.9 2123.3 2062.8 C2124.5 2058.7 2127.9 2046.9 2129.4 2050.7 C2130.9 2054.5 2138.4 2103.4 2139.9 2105.0 C2141.4 2106.6 2144.9 2073.1 2145.9 2068.8 C2146.9 2064.5 2149.4 2060.2 2150.5 2056.7 C2151.6 2053.2 2156.7 2032.4 2158.0 2029.6 C2159.3 2026.8 2163.2 2023.7 2164.6 2025.1 C2166.0 2026.5 2171.8 2037.0 2173.1 2044.7 C2174.4 2052.4 2178.3 2100.7 2179.1 2111.0 C2179.9 2121.3 2181.3 2159.2 2182.1 2159.2 C2182.9 2159.2 2187.0 2114.2 2188.1 2111.0 C2189.2 2107.8 2193.1 2125.3 2194.2 2123.1 C2195.3 2120.9 2198.9 2090.9 2200.2 2086.9 C2201.5 2082.9 2206.2 2074.5 2208.1 2078.6 C2210.0 2082.7 2219.5 2129.0 2221.7 2132.9 C2223.9 2136.8 2230.9 2126.0 2232.6 2122.1 C2234.3 2118.2 2239.2 2092.9 2240.7 2089.5 C2242.2 2086.1 2247.3 2081.7 2248.8 2084.1 C2250.3 2086.5 2255.3 2120.0 2257.0 2116.6 C2258.7 2113.2 2266.1 2053.2 2267.8 2046.1 C2269.5 2039.0 2274.3 2034.6 2276.0 2038.0 C2277.7 2041.4 2285.1 2072.6 2286.8 2084.1 C2288.5 2095.6 2293.3 2154.3 2295.0 2165.5 C2296.7 2176.7 2304.1 2209.9 2305.8 2208.9 C2307.5 2207.9 2312.3 2161.9 2313.9 2154.6 C2315.5 2147.3 2322.0 2126.0 2323.7 2127.5 C2325.4 2129.0 2331.1 2165.0 2332.9 2170.9 C2334.7 2176.8 2342.1 2185.8 2343.8 2192.6 C2345.5 2199.4 2349.9 2234.7 2351.9 2246.9 C2353.9 2259.1 2363.5 2327.2 2365.5 2328.2 C2367.5 2329.2 2371.9 2265.0 2373.6 2257.7 C2375.3 2250.4 2382.8 2246.9 2384.5 2246.9 C2386.2 2246.9 2390.6 2261.1 2392.6 2257.7 C2394.6 2254.3 2404.2 2212.3 2406.2 2208.9 C2408.2 2205.5 2412.8 2219.7 2414.3 2219.7 C2415.8 2219.7 2421.0 2207.9 2422.5 2208.9 C2424.0 2209.9 2428.9 2228.2 2430.6 2230.6 C2432.3 2233.0 2439.8 2230.1 2441.5 2236.0 C2443.2 2241.9 2448.4 2286.9 2449.6 2295.7 C2450.8 2304.5 2453.8 2334.7 2455.0 2333.7 C2456.2 2332.7 2461.5 2290.2 2463.2 2284.8 C2464.9 2279.4 2472.5 2267.6 2474.0 2274.0 C2475.5 2280.4 2478.7 2341.7 2479.4 2355.4 C2480.1 2369.1 2480.9 2422.0 2482.1 2425.9 C2483.3 2429.8 2491.3 2414.9 2493.0 2398.8 C2494.7 2382.7 2499.7 2265.9 2501.1 2246.9 C2502.5 2227.9 2507.0 2187.2 2508.2 2187.2 C2509.4 2187.2 2513.2 2229.8 2514.7 2246.9 C2516.2 2264.0 2523.0 2374.7 2524.5 2377.1 C2526.0 2379.5 2529.7 2305.3 2531.0 2274.0 C2532.3 2242.7 2537.6 2066.4 2539.1 2029.8 C2540.6 1993.2 2546.1 1885.6 2547.3 1867.0 C2548.5 1848.4 2551.5 1828.0 2552.7 1823.6 C2553.9 1819.2 2559.6 1814.3 2560.8 1818.2 C2562.0 1822.1 2565.2 1873.8 2566.3 1867.0 C2567.4 1860.2 2572.1 1742.2 2573.3 1742.2 C2574.5 1742.2 2579.0 1844.0 2579.8 1867.0 C2580.6 1890.0 2581.5 1991.9 2582.5 1997.3 C2583.5 2002.7 2589.0 1933.5 2590.7 1926.7 C2592.4 1919.9 2600.0 1919.3 2601.5 1921.3 C2603.0 1923.3 2605.7 1955.2 2606.9 1948.4 C2608.1 1941.6 2613.6 1859.0 2615.1 1845.3 C2616.6 1831.6 2621.5 1796.0 2623.2 1796.5 C2624.9 1797.0 2632.1 1846.2 2634.1 1850.8 C2636.1 1855.4 2643.2 1849.5 2644.9 1848.0 C2646.6 1846.5 2651.9 1841.1 2653.1 1834.5 C2654.3 1827.9 2657.3 1782.9 2658.5 1774.8 C2659.7 1766.7 2665.1 1742.1 2666.6 1745.0 C2668.1 1747.9 2672.8 1801.1 2674.8 1807.4 C2676.8 1813.7 2686.1 1813.1 2688.3 1815.5 C2690.5 1817.9 2697.0 1830.4 2699.2 1834.5 C2701.4 1838.6 2710.4 1858.7 2712.8 1861.6 C2715.2 1864.5 2723.6 1864.1 2726.3 1867.0 C2729.0 1869.9 2739.9 1891.8 2742.6 1894.2 C2745.3 1896.6 2754.2 1899.1 2756.2 1894.2 C2758.2 1889.3 2762.7 1848.7 2764.3 1839.9 C2765.9 1831.1 2772.1 1797.5 2774.1 1796.5 C2776.1 1795.5 2783.9 1823.2 2786.0 1829.1 C2788.1 1835.0 2795.4 1865.0 2796.9 1861.6 C2798.4 1858.2 2801.3 1799.2 2802.3 1791.1 C2803.3 1783.0 2806.5 1770.6 2807.7 1772.1 C2808.9 1773.6 2814.3 1796.4 2815.8 1807.4 C2817.3 1818.4 2822.3 1888.3 2824.0 1894.2 C2825.7 1900.1 2833.1 1873.0 2834.8 1872.5 C2836.5 1872.0 2841.5 1887.7 2843.0 1888.7 C2844.5 1889.7 2849.6 1881.8 2851.1 1883.3 C2852.6 1884.8 2857.4 1903.8 2859.3 1905.0 C2861.2 1906.2 2869.3 1895.2 2871.7 1896.1 C2874.1 1897.0 2883.4 1911.5 2886.2 1915.4 C2889.0 1919.3 2900.2 1940.8 2903.0 1939.5 C2905.8 1938.2 2915.3 1903.5 2917.5 1900.9 C2919.7 1898.3 2925.1 1913.2 2927.1 1910.6 C2929.1 1908.0 2937.5 1873.3 2939.2 1872.0 C2940.9 1870.7 2944.7 1891.3 2946.4 1896.1 C2948.1 1900.9 2956.3 1926.3 2958.5 1925.0 C2960.7 1923.7 2967.9 1887.5 2970.5 1881.6 C2973.1 1875.7 2984.4 1860.8 2987.4 1859.9 C2990.4 1859.0 3001.3 1872.0 3004.3 1872.0 C3007.3 1872.0 3018.8 1859.0 3021.2 1859.9 C3023.6 1860.8 3029.3 1875.7 3030.8 1881.6 C3032.3 1887.5 3036.5 1918.9 3038.0 1925.0 C3039.5 1931.1 3046.2 1949.5 3047.7 1949.1 C3049.2 1948.7 3053.6 1922.4 3054.9 1920.2 C3056.2 1918.0 3060.7 1928.5 3062.2 1925.0 C3063.7 1921.5 3070.3 1883.8 3071.8 1881.6 C3073.3 1879.4 3077.5 1897.4 3079.0 1900.9 C3080.5 1904.4 3086.7 1919.8 3088.7 1920.2 C3090.7 1920.6 3099.0 1911.8 3100.7 1905.7 C3102.4 1899.6 3106.8 1862.7 3108.0 1852.7 C3109.2 1842.7 3112.9 1793.1 3114.2 1794.8 C3115.5 1796.5 3120.6 1871.1 3122.4 1872.0 C3124.2 1872.9 3132.8 1813.8 3134.5 1804.5 C3136.2 1795.2 3140.2 1768.3 3141.7 1768.3 C3143.2 1768.3 3149.9 1798.2 3151.4 1804.5 C3152.9 1810.8 3156.9 1834.7 3158.6 1838.2 C3160.3 1841.7 3168.6 1842.2 3170.6 1843.1 C3172.6 1844.0 3179.0 1855.7 3180.3 1847.9 C3181.6 1840.1 3184.2 1769.1 3185.1 1756.3 C3186.0 1743.5 3188.6 1707.8 3189.9 1705.6 C3191.2 1703.4 3198.1 1725.5 3199.6 1732.2 C3201.1 1738.9 3205.5 1784.7 3206.8 1780.4 C3208.1 1776.1 3212.5 1690.4 3214.0 1683.9 C3215.5 1677.4 3222.2 1712.9 3223.7 1708.1 C3225.2 1703.3 3229.2 1639.2 3230.9 1630.9 C3232.6 1622.6 3241.5 1624.6 3243.0 1616.4 C3244.5 1608.2 3246.9 1559.3 3247.8 1539.3 C3248.7 1519.3 3251.7 1412.0 3252.6 1394.6 C3253.5 1377.2 3256.1 1349.0 3257.4 1346.4 C3258.7 1343.8 3265.6 1357.5 3267.1 1365.7 C3268.6 1373.9 3272.6 1431.5 3274.3 1438.0 C3276.0 1444.5 3284.4 1441.9 3286.4 1438.0 C3288.4 1434.1 3294.3 1401.8 3296.0 1394.6 C3297.7 1387.4 3303.9 1358.9 3305.6 1358.5 C3307.3 1358.1 3313.8 1380.0 3315.3 1389.8 C3316.8 1399.6 3321.4 1454.8 3322.5 1467.0 C3323.6 1479.2 3325.8 1517.0 3327.3 1524.8 C3328.8 1532.6 3337.4 1555.5 3339.4 1553.8 C3341.4 1552.1 3347.5 1512.0 3349.0 1505.5 C3350.5 1499.0 3355.0 1483.1 3356.3 1481.4 C3357.6 1479.7 3362.2 1482.8 3363.5 1486.3 C3364.8 1489.8 3369.4 1523.0 3370.7 1520.0 C3372.0 1517.0 3376.5 1459.9 3378.0 1452.5 C3379.5 1445.1 3385.9 1444.1 3387.6 1438.0 C3389.3 1431.9 3395.3 1387.6 3397.3 1385.0 C3399.3 1382.4 3407.4 1406.9 3409.3 1409.1 C3411.2 1411.3 3417.4 1404.8 3418.9 1409.1 C3420.4 1413.4 3424.9 1449.1 3426.2 1457.3 C3427.5 1465.5 3431.7 1500.3 3433.4 1500.7 C3435.1 1501.1 3443.2 1467.8 3445.5 1462.2 C3447.8 1456.6 3457.3 1441.0 3459.0 1438.3 C3460.7 1435.6 3463.5 1431.8 3464.8 1431.7 C3466.1 1431.6 3471.6 1435.3 3472.9 1437.1 C3474.2 1438.9 3477.5 1454.1 3479.5 1451.9 C3481.5 1449.7 3492.6 1421.1 3494.6 1412.7 C3496.6 1404.3 3500.1 1369.4 3501.2 1358.4 C3502.3 1347.4 3505.5 1298.7 3506.7 1290.6 C3507.9 1282.5 3513.5 1269.9 3514.5 1268.9 C3515.5 1267.9 3517.0 1273.4 3517.5 1279.5 C3518.0 1285.6 3519.2 1325.9 3519.6 1336.7 C3520.0 1347.5 3521.0 1391.6 3521.7 1399.1 C3522.4 1406.6 3525.9 1417.3 3526.9 1419.6 C3527.9 1421.9 3531.5 1427.5 3532.6 1424.7 C3533.7 1421.9 3537.4 1392.5 3538.9 1388.0 C3540.4 1383.5 3547.7 1376.4 3549.5 1375.0 C3551.3 1373.6 3557.2 1373.1 3558.5 1372.0 C3559.8 1370.9 3563.3 1364.3 3564.5 1362.9 C3565.7 1361.5 3570.9 1357.8 3572.1 1356.9 C3573.3 1356.0 3577.2 1354.0 3578.1 1352.4 C3579.0 1350.8 3581.7 1340.4 3582.6 1338.8 C3583.5 1337.2 3587.2 1334.3 3588.6 1334.3 C3590.0 1334.3 3596.5 1336.8 3597.7 1338.8 C3598.9 1340.8 3601.1 1354.5 3602.2 1356.9 C3603.3 1359.3 3608.2 1364.4 3609.7 1366.0 C3611.2 1367.6 3617.3 1372.6 3618.8 1375.0 C3620.3 1377.4 3625.1 1389.0 3626.3 1393.1 C3627.5 1397.2 3630.8 1417.4 3632.3 1420.2 C3633.8 1423.0 3641.4 1423.3 3642.9 1424.7 C3644.4 1426.1 3647.8 1430.7 3648.9 1435.3 C3650.0 1439.9 3653.9 1467.9 3654.9 1475.4 C3655.9 1482.9 3658.5 1517.4 3659.5 1518.5 C3660.5 1519.6 3664.0 1491.1 3665.5 1487.4 C3667.0 1483.7 3674.0 1478.9 3676.0 1477.5 C3678.0 1476.1 3686.2 1471.4 3688.1 1471.4 C3690.0 1471.4 3695.6 1475.1 3697.1 1477.5 C3698.6 1479.9 3703.3 1491.1 3704.7 1498.6 C3706.1 1506.1 3711.0 1559.0 3712.2 1560.7 C3713.4 1562.4 3717.1 1521.8 3718.2 1517.6 C3719.3 1513.4 3723.2 1515.6 3724.3 1513.6 C3725.4 1511.6 3729.0 1499.4 3730.3 1495.6 C3731.7 1491.8 3737.8 1475.1 3739.3 1471.4 C3740.8 1467.7 3745.4 1456.8 3746.9 1454.9 C3748.4 1453.0 3754.3 1449.9 3755.9 1450.3 C3757.5 1450.7 3763.6 1455.2 3764.9 1459.4 C3766.2 1463.6 3769.1 1496.6 3770.1 1496.5 C3771.1 1496.4 3774.3 1461.6 3775.5 1457.9 C3776.7 1454.2 3781.6 1454.8 3783.0 1454.9 C3784.4 1455.0 3789.4 1460.1 3790.6 1459.4 C3791.8 1458.7 3795.2 1449.7 3796.6 1447.3 C3797.9 1444.9 3804.0 1434.2 3805.6 1432.3 C3807.2 1430.4 3813.1 1426.2 3814.7 1426.2 C3816.3 1426.2 3822.2 1430.7 3823.7 1432.3 C3825.2 1433.9 3829.7 1443.1 3831.3 1444.3 C3832.9 1445.5 3840.0 1445.8 3841.8 1445.8 C3843.6 1445.8 3849.4 1440.6 3850.8 1444.3 C3852.2 1448.0 3855.9 1490.0 3856.9 1487.4 C3857.9 1484.8 3860.5 1423.0 3861.4 1415.1 C3862.3 1407.2 3866.2 1400.7 3867.4 1399.1 C3868.6 1397.5 3873.6 1397.6 3875.0 1397.6 C3876.4 1397.6 3881.4 1400.6 3882.5 1399.1 C3883.6 1397.6 3885.9 1383.7 3887.0 1381.0 C3888.1 1378.3 3893.4 1370.3 3894.5 1369.0 C3895.6 1367.7 3898.1 1366.0 3899.1 1366.0 C3900.1 1366.0 3904.7 1369.1 3906.1 1369.2 C3907.5 1369.3 3914.0 1367.2 3915.1 1367.4 C3916.2 1367.6 3918.0 1366.6 3918.7 1371.8 C3919.4 1377.0 3922.6 1427.2 3923.4 1424.9 C3924.2 1422.6 3926.4 1354.7 3927.8 1346.4 C3929.2 1338.1 3936.8 1333.2 3938.6 1333.0 C3940.4 1332.8 3946.2 1341.0 3947.7 1343.9 C3949.2 1346.8 3953.4 1362.0 3954.9 1365.6 C3956.4 1369.2 3962.5 1379.8 3964.0 1383.7 C3965.5 1387.6 3970.1 1404.1 3971.2 1409.0 C3972.3 1413.9 3975.5 1430.7 3976.6 1438.0 C3977.7 1445.3 3981.9 1488.6 3983.1 1490.1 C3984.3 1491.6 3989.1 1455.0 3990.4 1455.0 C3991.7 1455.0 3996.6 1493.4 3997.6 1490.1 C3998.6 1486.8 4000.6 1425.6 4001.2 1418.8 C4001.8 1412.0 4002.8 1414.6 4003.8 1414.4 C4004.8 1414.2 4011.3 1415.8 4012.8 1416.3 C4014.3 1416.8 4018.7 1420.4 4020.0 1419.9 C4021.3 1419.4 4026.0 1411.6 4027.3 1410.8 C4028.6 1410.0 4033.2 1410.0 4034.5 1410.8 C4035.8 1411.6 4040.7 1416.0 4041.8 1419.9 C4042.9 1423.8 4046.3 1454.7 4047.2 1453.9 C4048.1 1453.1 4050.7 1417.9 4051.9 1411.5 C4053.1 1405.1 4059.4 1389.1 4060.9 1382.6 C4062.4 1376.1 4067.1 1347.0 4068.2 1339.2 C4069.3 1331.4 4072.7 1303.6 4073.6 1295.8 C4074.5 1288.0 4077.0 1257.2 4077.9 1252.4 C4078.8 1247.6 4082.1 1242.9 4083.4 1242.6 C4084.7 1242.3 4090.9 1247.4 4092.4 1248.7 C4093.9 1250.0 4098.8 1254.8 4099.6 1257.1 C4100.4 1259.4 4101.4 1268.0 4101.8 1274.1 C4102.2 1280.2 4103.5 1313.6 4104.0 1324.7 C4104.5 1335.8 4107.0 1384.1 4107.6 1397.1 C4108.2 1410.1 4110.6 1456.4 4111.2 1469.4 C4111.8 1482.4 4114.1 1528.8 4114.8 1541.8 C4115.5 1554.8 4117.8 1600.6 4118.5 1614.2 C4119.2 1627.8 4121.0 1688.5 4122.1 1692.7 C4123.2 1696.9 4128.9 1665.3 4130.4 1661.2 C4131.9 1657.1 4137.4 1651.6 4138.7 1646.7 C4140.0 1641.8 4143.5 1611.7 4144.9 1606.9 C4146.3 1602.1 4152.6 1594.1 4153.9 1593.5 C4155.2 1592.9 4158.6 1597.8 4159.3 1599.7 C4160.0 1601.6 4161.2 1609.6 4161.9 1614.2 C4162.6 1618.8 4166.5 1642.2 4167.3 1650.3 C4168.1 1658.4 4170.1 1692.9 4170.9 1704.6 C4171.7 1716.3 4174.6 1768.2 4176.3 1780.2 C4178.0 1792.2 4188.0 1834.1 4190.3 1837.5 C4192.6 1840.9 4200.6 1822.5 4202.3 1818.2 C4204.0 1813.9 4208.3 1792.8 4209.6 1789.3 C4210.9 1785.8 4215.5 1778.0 4216.8 1779.7 C4218.1 1781.4 4222.7 1800.8 4224.0 1808.6 C4225.3 1816.4 4229.8 1865.5 4231.3 1866.4 C4232.8 1867.3 4239.2 1819.1 4240.9 1818.2 C4242.6 1817.3 4249.0 1849.4 4250.5 1856.8 C4252.0 1864.2 4256.3 1898.9 4257.8 1900.2 C4259.3 1901.5 4266.0 1862.6 4267.4 1871.3 C4268.8 1880.0 4272.4 1991.0 4273.7 1996.6 C4275.0 2002.2 4280.3 1945.2 4281.9 1933.9 C4283.5 1922.6 4289.8 1878.7 4291.5 1871.3 C4293.2 1863.9 4299.2 1855.0 4301.2 1852.0 C4303.2 1849.0 4311.0 1840.1 4313.2 1837.5 C4315.4 1834.9 4323.1 1823.9 4325.3 1823.0 C4327.5 1822.1 4335.1 1827.9 4337.3 1827.9 C4339.5 1827.9 4347.9 1820.0 4349.4 1823.0 C4350.9 1826.0 4353.6 1852.9 4354.2 1861.6 C4354.8 1870.3 4355.3 1916.9 4356.6 1919.5 C4357.9 1922.1 4366.5 1892.7 4368.7 1890.5 C4370.9 1888.3 4378.7 1895.4 4380.7 1895.4 C4382.7 1895.4 4389.2 1887.0 4390.4 1890.5 C4391.6 1894.0 4393.1 1933.9 4394.2 1933.9 C4395.3 1933.9 4401.0 1889.6 4402.4 1890.5 C4403.8 1891.4 4408.4 1937.7 4409.7 1943.6 C4411.0 1949.5 4415.8 1963.4 4416.9 1955.6 C4418.0 1947.8 4420.4 1866.8 4421.7 1856.8 C4423.0 1846.8 4429.4 1843.4 4431.4 1844.7 C4433.4 1846.0 4441.5 1866.3 4443.4 1871.3 C4445.3 1876.3 4451.3 1895.4 4453.0 1900.2 C4454.7 1905.0 4460.9 1918.9 4462.7 1924.3 C4464.5 1929.7 4471.6 1963.1 4473.3 1960.5 C4475.0 1957.9 4480.6 1903.9 4482.0 1895.4 C4483.4 1886.9 4487.7 1869.7 4489.2 1866.4 C4490.7 1863.1 4497.2 1856.2 4498.9 1859.2 C4500.6 1862.2 4506.6 1897.8 4508.5 1900.2 C4510.4 1902.6 4518.5 1887.4 4520.5 1885.7 C4522.5 1884.0 4528.7 1885.2 4530.2 1880.9 C4531.7 1876.6 4535.7 1841.6 4537.4 1837.5 C4539.1 1833.4 4547.5 1833.4 4549.5 1835.1 C4551.5 1836.8 4557.6 1853.1 4559.1 1856.8 C4560.6 1860.5 4564.7 1877.8 4566.4 1876.1 C4568.1 1874.4 4576.2 1842.7 4578.4 1837.5 C4580.6 1832.3 4588.8 1823.0 4590.5 1818.2 C4592.2 1813.4 4596.2 1786.7 4597.7 1784.5 C4599.2 1782.3 4605.6 1794.1 4607.3 1794.1 C4609.0 1794.1 4615.3 1783.2 4617.0 1784.5 C4618.7 1785.8 4624.9 1805.8 4626.6 1808.6 C4628.3 1811.4 4634.3 1816.2 4636.3 1815.8 C4638.3 1815.4 4646.6 1801.0 4648.3 1803.8 C4650.0 1806.6 4654.5 1839.8 4655.6 1847.2 C4656.7 1854.6 4659.1 1879.2 4660.4 1885.7 C4661.7 1892.2 4668.5 1911.7 4670.0 1919.5 C4671.5 1927.3 4675.6 1967.3 4677.3 1972.5 C4679.0 1977.7 4687.4 1980.8 4689.3 1977.3 C4691.2 1973.8 4697.2 1939.1 4698.9 1933.9 C4700.6 1928.7 4706.4 1921.9 4708.6 1919.5 C4710.8 1917.1 4720.9 1907.4 4723.1 1907.4 C4725.3 1907.4 4731.2 1918.8 4732.7 1919.5 C4734.2 1920.2 4738.4 1908.2 4739.9 1914.7 C4741.4 1921.2 4748.1 1988.8 4749.6 1991.8 C4751.1 1994.8 4755.7 1944.9 4756.8 1948.4 C4757.9 1951.9 4760.7 2014.3 4761.6 2030.4 C4762.5 2046.5 4765.4 2113.8 4766.5 2126.8 C4767.6 2139.8 4772.2 2168.1 4773.7 2175.0 C4775.2 2181.9 4781.6 2199.7 4783.3 2204.0 C4785.0 2208.3 4791.5 2227.1 4793.0 2223.2 C4794.5 2219.3 4798.7 2163.2 4800.2 2160.6 C4801.7 2158.0 4808.3 2195.2 4809.8 2194.3 C4811.3 2193.4 4815.8 2157.4 4817.1 2150.9 C4818.4 2144.4 4823.7 2124.6 4824.3 2122.0 L4824.3 3427 L404.5 3427 Z" fill="url(#ag)"/>
<rect x="361" y="3423.5" width="4509" height="7" fill="#686868"/>
<rect x="1675.5" y="916" width="5" height="2511" fill="#d8d8d8"/>
<path d="M404.5 2338.2 C405.4 2342.6 412.2 2393.0 414.6 2386.7 C417.0 2380.4 429.0 2278.6 431.5 2267.7 C434.0 2256.8 440.9 2260.4 442.5 2265.6 C444.1 2270.8 448.2 2321.1 449.6 2325.5 C451.0 2329.9 456.2 2324.3 458.1 2315.0 C460.0 2305.7 468.5 2238.1 470.8 2222.1 C473.1 2206.1 481.1 2147.6 483.4 2137.7 C485.7 2127.8 494.0 2111.3 496.1 2112.4 C498.2 2113.5 504.7 2145.1 506.6 2150.4 C508.5 2155.7 515.3 2163.9 517.2 2171.5 C519.1 2179.1 525.6 2232.1 527.7 2234.8 C529.8 2237.5 537.9 2206.7 540.4 2201.0 C542.9 2195.3 553.0 2177.4 555.2 2171.5 C557.4 2165.6 563.0 2134.8 564.9 2135.6 C566.8 2136.4 574.7 2172.1 576.3 2179.9 C577.9 2187.7 581.3 2217.9 582.6 2222.1 C583.9 2226.3 589.8 2221.7 591.1 2226.3 C592.4 2230.9 595.9 2270.1 597.4 2272.8 C598.9 2275.5 605.8 2262.0 607.9 2255.9 C610.0 2249.8 618.3 2208.6 620.6 2205.2 C622.9 2201.8 631.4 2217.3 633.3 2217.9 C635.2 2218.5 639.8 2208.2 641.7 2211.6 C643.6 2215.0 651.7 2254.2 654.4 2255.9 C657.1 2257.6 669.0 2225.3 671.3 2230.6 C673.6 2235.9 678.0 2310.4 679.7 2315.0 C681.4 2319.6 688.4 2282.3 690.3 2281.2 C692.2 2280.1 698.9 2298.9 700.8 2302.3 C702.7 2305.7 710.1 2315.0 711.4 2319.2 C712.7 2323.4 714.3 2347.3 715.6 2348.8 C716.9 2350.3 723.8 2331.9 726.1 2336.1 C728.4 2340.3 738.4 2398.6 740.9 2395.2 C743.4 2391.8 751.7 2304.9 753.6 2298.1 C755.5 2291.3 760.3 2327.6 762.0 2319.2 C763.7 2310.8 770.5 2211.7 772.6 2205.2 C774.7 2198.7 782.9 2245.5 785.2 2247.4 C787.5 2249.3 795.8 2224.0 797.9 2226.3 C800.0 2228.6 806.4 2270.3 808.5 2272.8 C810.6 2275.3 818.4 2255.5 821.1 2253.8 C823.8 2252.1 835.5 2246.0 838.0 2253.8 C840.5 2261.6 846.9 2334.8 848.6 2340.3 C850.3 2345.8 855.5 2311.6 857.0 2315.0 C858.5 2318.4 863.9 2377.5 865.4 2378.3 C866.9 2379.1 871.6 2332.0 873.9 2323.4 C876.2 2314.8 888.0 2276.5 890.8 2283.3 C893.6 2290.1 902.8 2393.5 905.5 2399.4 C908.2 2405.3 918.2 2355.6 920.3 2348.8 C922.4 2342.0 926.9 2323.8 928.8 2323.4 C930.7 2323.0 939.5 2349.8 941.4 2344.5 C943.3 2339.2 948.6 2279.1 949.9 2264.3 C951.2 2249.5 954.9 2193.8 956.2 2179.9 C957.5 2166.0 962.9 2111.4 964.6 2110.3 C966.3 2109.2 973.1 2160.9 975.2 2167.2 C977.3 2173.5 985.7 2182.9 987.9 2179.9 C990.1 2176.9 998.5 2135.8 1000.1 2133.5 C1001.7 2131.2 1004.0 2160.7 1005.3 2154.6 C1006.6 2148.5 1013.1 2067.4 1014.6 2065.9 C1016.1 2064.4 1020.6 2127.4 1022.2 2137.7 C1023.8 2148.0 1031.1 2187.5 1032.8 2179.9 C1034.5 2172.3 1040.3 2077.6 1041.2 2053.3 C1042.1 2029.0 1042.2 1922.7 1043.3 1909.8 C1044.4 1896.9 1052.0 1913.2 1053.9 1909.8 C1055.8 1906.4 1062.5 1871.0 1064.4 1871.8 C1066.3 1872.6 1073.1 1909.5 1075.0 1918.2 C1076.9 1926.9 1084.2 1961.6 1085.5 1968.8 C1086.8 1976.0 1088.5 1998.0 1089.8 1998.4 C1091.1 1998.8 1098.4 1974.6 1100.3 1973.1 C1102.2 1971.6 1109.0 1977.7 1110.9 1981.5 C1112.8 1985.3 1119.6 2010.0 1121.4 2015.3 C1123.2 2020.6 1129.6 2043.6 1131.1 2040.6 C1132.6 2037.6 1136.9 1987.4 1138.3 1981.5 C1139.7 1975.6 1145.0 1974.4 1146.7 1975.2 C1148.4 1976.0 1155.6 1983.0 1157.3 1990.0 C1159.0 1997.0 1164.2 2036.2 1165.7 2053.3 C1167.2 2070.4 1172.8 2162.4 1174.2 2179.9 C1175.6 2197.4 1180.5 2245.1 1181.8 2247.4 C1183.1 2249.7 1187.3 2207.9 1188.9 2205.2 C1190.5 2202.5 1197.2 2220.2 1199.5 2217.9 C1201.8 2215.6 1212.4 2175.7 1214.3 2179.9 C1216.2 2184.1 1219.1 2252.1 1220.6 2264.3 C1222.1 2276.5 1229.5 2313.9 1231.2 2315.0 C1232.9 2316.1 1238.1 2280.4 1239.6 2277.0 C1241.1 2273.6 1246.5 2274.3 1248.0 2277.0 C1249.5 2279.7 1255.2 2309.2 1256.5 2306.5 C1257.8 2303.8 1261.5 2252.0 1262.8 2247.4 C1264.1 2242.8 1269.8 2260.1 1271.3 2255.9 C1272.8 2251.7 1278.0 2207.5 1279.7 2201.0 C1281.4 2194.5 1288.0 2183.7 1290.3 2184.1 C1292.6 2184.5 1302.5 2204.8 1305.0 2205.2 C1307.5 2205.6 1315.4 2191.0 1317.7 2188.3 C1320.0 2185.6 1328.3 2178.0 1330.4 2175.7 C1332.5 2173.4 1339.6 2168.3 1340.9 2163.0 C1342.2 2157.7 1343.8 2121.9 1345.1 2116.6 C1346.4 2111.3 1353.9 2107.3 1355.7 2103.9 C1357.5 2100.5 1363.3 2078.2 1365.0 2078.6 C1366.7 2079.0 1372.9 2105.1 1374.7 2108.1 C1376.5 2111.1 1383.5 2107.5 1385.2 2112.4 C1386.9 2117.3 1392.4 2159.2 1393.7 2163.0 C1395.0 2166.8 1398.9 2149.8 1400.0 2154.6 C1401.1 2159.4 1404.6 2212.0 1406.3 2215.8 C1408.0 2219.6 1416.9 2198.3 1419.0 2196.8 C1421.1 2195.3 1427.8 2204.4 1429.6 2198.9 C1431.4 2193.4 1437.4 2137.3 1439.3 2135.6 C1441.2 2133.9 1449.3 2177.4 1450.7 2179.9 C1452.1 2182.4 1453.6 2166.0 1454.9 2163.0 C1456.2 2160.0 1463.7 2143.8 1465.4 2146.1 C1467.1 2148.4 1472.4 2183.0 1473.9 2188.3 C1475.4 2193.6 1481.0 2197.6 1482.3 2205.2 C1483.6 2212.8 1487.2 2269.0 1488.7 2272.8 C1490.2 2276.6 1497.5 2248.9 1499.2 2247.4 C1500.9 2245.9 1506.3 2258.7 1507.6 2255.9 C1508.9 2253.1 1512.1 2216.6 1514.0 2215.8 C1515.9 2215.0 1526.3 2248.0 1528.8 2247.4 C1531.3 2246.8 1539.1 2212.9 1541.4 2209.5 C1543.7 2206.1 1552.2 2208.0 1554.1 2209.5 C1556.0 2211.0 1561.0 2217.6 1562.5 2226.3 C1564.0 2235.0 1569.1 2297.4 1571.0 2306.5 C1572.9 2315.6 1581.5 2323.0 1583.6 2327.6 C1585.7 2332.2 1592.6 2351.5 1594.2 2357.2 C1595.8 2362.9 1599.5 2387.0 1601.2 2391.1 C1602.9 2395.2 1611.7 2396.7 1613.3 2403.2 C1614.9 2409.7 1617.9 2450.4 1619.3 2463.4 C1620.7 2476.4 1626.5 2534.2 1628.4 2547.8 C1630.3 2561.4 1638.0 2604.9 1640.4 2614.1 C1642.8 2623.3 1653.3 2643.2 1655.5 2650.3 C1657.7 2657.4 1663.1 2682.2 1664.5 2692.5 C1665.9 2702.8 1669.8 2743.1 1670.6 2764.8 C1671.4 2786.5 1672.7 2909.2 1673.0 2933.6 C1673.3 2958.0 1673.6 3026.9 1674.2 3036.1 C1674.8 3045.3 1679.4 3045.3 1680.2 3036.1 C1681.0 3026.9 1682.1 2956.9 1682.6 2933.6 C1683.1 2910.3 1685.1 2795.3 1686.2 2776.9 C1687.3 2758.5 1692.6 2740.1 1694.7 2728.7 C1696.8 2717.3 1707.5 2663.3 1709.7 2650.3 C1711.9 2637.3 1717.2 2591.1 1718.8 2584.0 C1720.4 2576.9 1726.2 2580.6 1727.8 2571.9 C1729.4 2563.2 1735.3 2513.1 1736.9 2487.6 C1738.5 2462.1 1744.0 2307.0 1745.9 2288.6 C1747.8 2270.2 1756.2 2289.6 1758.0 2282.6 C1759.8 2275.6 1764.5 2211.4 1765.8 2210.3 C1767.1 2209.2 1771.5 2243.5 1773.0 2270.6 C1774.5 2297.7 1780.5 2471.6 1782.1 2511.7 C1783.7 2551.8 1789.8 2716.6 1791.1 2716.6 C1792.4 2716.6 1795.7 2533.4 1797.1 2511.7 C1798.5 2490.0 1804.6 2486.4 1806.2 2475.5 C1807.8 2464.6 1813.9 2404.1 1815.2 2391.1 C1816.5 2378.1 1819.6 2337.3 1821.2 2330.8 C1822.8 2324.3 1830.6 2316.6 1833.3 2318.8 C1836.0 2321.0 1848.7 2346.2 1851.4 2354.9 C1854.1 2363.6 1861.5 2404.3 1863.4 2415.2 C1865.3 2426.1 1870.6 2475.5 1872.5 2475.5 C1874.4 2475.5 1882.6 2428.2 1884.5 2415.2 C1886.4 2402.2 1892.0 2344.9 1893.6 2330.8 C1895.2 2316.7 1901.0 2267.2 1902.6 2258.5 C1904.2 2249.8 1909.5 2233.3 1911.7 2234.4 C1913.9 2235.5 1924.3 2270.1 1926.7 2270.6 C1929.1 2271.1 1936.7 2241.2 1938.8 2240.4 C1940.9 2239.6 1948.3 2254.9 1950.0 2261.7 C1951.7 2268.5 1956.1 2309.5 1957.5 2316.0 C1958.9 2322.5 1963.7 2336.3 1965.1 2334.1 C1966.5 2331.9 1971.1 2300.3 1972.6 2291.9 C1974.1 2283.5 1980.1 2247.1 1981.7 2240.6 C1983.3 2234.1 1989.1 2219.5 1990.7 2219.5 C1992.3 2219.5 1997.9 2234.9 1999.7 2240.6 C2001.5 2246.3 2008.8 2277.9 2010.3 2282.8 C2011.8 2287.7 2015.1 2294.1 2016.3 2294.9 C2017.5 2295.7 2022.5 2288.7 2023.9 2291.9 C2025.3 2295.1 2029.9 2328.3 2031.4 2331.0 C2032.9 2333.7 2039.2 2326.9 2040.4 2322.0 C2041.6 2317.1 2044.0 2285.5 2045.0 2276.8 C2046.0 2268.1 2049.8 2232.0 2051.0 2225.5 C2052.2 2219.0 2057.1 2206.6 2058.5 2204.4 C2059.9 2202.2 2064.7 2199.2 2066.1 2201.4 C2067.5 2203.6 2072.7 2232.7 2073.6 2228.6 C2074.5 2224.5 2076.1 2167.3 2076.6 2156.2 C2077.1 2145.1 2078.6 2111.0 2079.6 2105.0 C2080.6 2099.0 2085.6 2091.5 2087.2 2089.9 C2088.8 2088.3 2095.9 2083.1 2097.7 2086.9 C2099.5 2090.7 2105.1 2131.3 2106.7 2132.1 C2108.3 2132.9 2114.3 2102.1 2115.8 2095.9 C2117.3 2089.7 2122.1 2066.9 2123.3 2062.8 C2124.5 2058.7 2127.9 2046.9 2129.4 2050.7 C2130.9 2054.5 2138.4 2103.4 2139.9 2105.0 C2141.4 2106.6 2144.9 2073.1 2145.9 2068.8 C2146.9 2064.5 2149.4 2060.2 2150.5 2056.7 C2151.6 2053.2 2156.7 2032.4 2158.0 2029.6 C2159.3 2026.8 2163.2 2023.7 2164.6 2025.1 C2166.0 2026.5 2171.8 2037.0 2173.1 2044.7 C2174.4 2052.4 2178.3 2100.7 2179.1 2111.0 C2179.9 2121.3 2181.3 2159.2 2182.1 2159.2 C2182.9 2159.2 2187.0 2114.2 2188.1 2111.0 C2189.2 2107.8 2193.1 2125.3 2194.2 2123.1 C2195.3 2120.9 2198.9 2090.9 2200.2 2086.9 C2201.5 2082.9 2206.2 2074.5 2208.1 2078.6 C2210.0 2082.7 2219.5 2129.0 2221.7 2132.9 C2223.9 2136.8 2230.9 2126.0 2232.6 2122.1 C2234.3 2118.2 2239.2 2092.9 2240.7 2089.5 C2242.2 2086.1 2247.3 2081.7 2248.8 2084.1 C2250.3 2086.5 2255.3 2120.0 2257.0 2116.6 C2258.7 2113.2 2266.1 2053.2 2267.8 2046.1 C2269.5 2039.0 2274.3 2034.6 2276.0 2038.0 C2277.7 2041.4 2285.1 2072.6 2286.8 2084.1 C2288.5 2095.6 2293.3 2154.3 2295.0 2165.5 C2296.7 2176.7 2304.1 2209.9 2305.8 2208.9 C2307.5 2207.9 2312.3 2161.9 2313.9 2154.6 C2315.5 2147.3 2322.0 2126.0 2323.7 2127.5 C2325.4 2129.0 2331.1 2165.0 2332.9 2170.9 C2334.7 2176.8 2342.1 2185.8 2343.8 2192.6 C2345.5 2199.4 2349.9 2234.7 2351.9 2246.9 C2353.9 2259.1 2363.5 2327.2 2365.5 2328.2 C2367.5 2329.2 2371.9 2265.0 2373.6 2257.7 C2375.3 2250.4 2382.8 2246.9 2384.5 2246.9 C2386.2 2246.9 2390.6 2261.1 2392.6 2257.7 C2394.6 2254.3 2404.2 2212.3 2406.2 2208.9 C2408.2 2205.5 2412.8 2219.7 2414.3 2219.7 C2415.8 2219.7 2421.0 2207.9 2422.5 2208.9 C2424.0 2209.9 2428.9 2228.2 2430.6 2230.6 C2432.3 2233.0 2439.8 2230.1 2441.5 2236.0 C2443.2 2241.9 2448.4 2286.9 2449.6 2295.7 C2450.8 2304.5 2453.8 2334.7 2455.0 2333.7 C2456.2 2332.7 2461.5 2290.2 2463.2 2284.8 C2464.9 2279.4 2472.5 2267.6 2474.0 2274.0 C2475.5 2280.4 2478.7 2341.7 2479.4 2355.4 C2480.1 2369.1 2480.9 2422.0 2482.1 2425.9 C2483.3 2429.8 2491.3 2414.9 2493.0 2398.8 C2494.7 2382.7 2499.7 2265.9 2501.1 2246.9 C2502.5 2227.9 2507.0 2187.2 2508.2 2187.2 C2509.4 2187.2 2513.2 2229.8 2514.7 2246.9 C2516.2 2264.0 2523.0 2374.7 2524.5 2377.1 C2526.0 2379.5 2529.7 2305.3 2531.0 2274.0 C2532.3 2242.7 2537.6 2066.4 2539.1 2029.8 C2540.6 1993.2 2546.1 1885.6 2547.3 1867.0 C2548.5 1848.4 2551.5 1828.0 2552.7 1823.6 C2553.9 1819.2 2559.6 1814.3 2560.8 1818.2 C2562.0 1822.1 2565.2 1873.8 2566.3 1867.0 C2567.4 1860.2 2572.1 1742.2 2573.3 1742.2 C2574.5 1742.2 2579.0 1844.0 2579.8 1867.0 C2580.6 1890.0 2581.5 1991.9 2582.5 1997.3 C2583.5 2002.7 2589.0 1933.5 2590.7 1926.7 C2592.4 1919.9 2600.0 1919.3 2601.5 1921.3 C2603.0 1923.3 2605.7 1955.2 2606.9 1948.4 C2608.1 1941.6 2613.6 1859.0 2615.1 1845.3 C2616.6 1831.6 2621.5 1796.0 2623.2 1796.5 C2624.9 1797.0 2632.1 1846.2 2634.1 1850.8 C2636.1 1855.4 2643.2 1849.5 2644.9 1848.0 C2646.6 1846.5 2651.9 1841.1 2653.1 1834.5 C2654.3 1827.9 2657.3 1782.9 2658.5 1774.8 C2659.7 1766.7 2665.1 1742.1 2666.6 1745.0 C2668.1 1747.9 2672.8 1801.1 2674.8 1807.4 C2676.8 1813.7 2686.1 1813.1 2688.3 1815.5 C2690.5 1817.9 2697.0 1830.4 2699.2 1834.5 C2701.4 1838.6 2710.4 1858.7 2712.8 1861.6 C2715.2 1864.5 2723.6 1864.1 2726.3 1867.0 C2729.0 1869.9 2739.9 1891.8 2742.6 1894.2 C2745.3 1896.6 2754.2 1899.1 2756.2 1894.2 C2758.2 1889.3 2762.7 1848.7 2764.3 1839.9 C2765.9 1831.1 2772.1 1797.5 2774.1 1796.5 C2776.1 1795.5 2783.9 1823.2 2786.0 1829.1 C2788.1 1835.0 2795.4 1865.0 2796.9 1861.6 C2798.4 1858.2 2801.3 1799.2 2802.3 1791.1 C2803.3 1783.0 2806.5 1770.6 2807.7 1772.1 C2808.9 1773.6 2814.3 1796.4 2815.8 1807.4 C2817.3 1818.4 2822.3 1888.3 2824.0 1894.2 C2825.7 1900.1 2833.1 1873.0 2834.8 1872.5 C2836.5 1872.0 2841.5 1887.7 2843.0 1888.7 C2844.5 1889.7 2849.6 1881.8 2851.1 1883.3 C2852.6 1884.8 2857.4 1903.8 2859.3 1905.0 C2861.2 1906.2 2869.3 1895.2 2871.7 1896.1 C2874.1 1897.0 2883.4 1911.5 2886.2 1915.4 C2889.0 1919.3 2900.2 1940.8 2903.0 1939.5 C2905.8 1938.2 2915.3 1903.5 2917.5 1900.9 C2919.7 1898.3 2925.1 1913.2 2927.1 1910.6 C2929.1 1908.0 2937.5 1873.3 2939.2 1872.0 C2940.9 1870.7 2944.7 1891.3 2946.4 1896.1 C2948.1 1900.9 2956.3 1926.3 2958.5 1925.0 C2960.7 1923.7 2967.9 1887.5 2970.5 1881.6 C2973.1 1875.7 2984.4 1860.8 2987.4 1859.9 C2990.4 1859.0 3001.3 1872.0 3004.3 1872.0 C3007.3 1872.0 3018.8 1859.0 3021.2 1859.9 C3023.6 1860.8 3029.3 1875.7 3030.8 1881.6 C3032.3 1887.5 3036.5 1918.9 3038.0 1925.0 C3039.5 1931.1 3046.2 1949.5 3047.7 1949.1 C3049.2 1948.7 3053.6 1922.4 3054.9 1920.2 C3056.2 1918.0 3060.7 1928.5 3062.2 1925.0 C3063.7 1921.5 3070.3 1883.8 3071.8 1881.6 C3073.3 1879.4 3077.5 1897.4 3079.0 1900.9 C3080.5 1904.4 3086.7 1919.8 3088.7 1920.2 C3090.7 1920.6 3099.0 1911.8 3100.7 1905.7 C3102.4 1899.6 3106.8 1862.7 3108.0 1852.7 C3109.2 1842.7 3112.9 1793.1 3114.2 1794.8 C3115.5 1796.5 3120.6 1871.1 3122.4 1872.0 C3124.2 1872.9 3132.8 1813.8 3134.5 1804.5 C3136.2 1795.2 3140.2 1768.3 3141.7 1768.3 C3143.2 1768.3 3149.9 1798.2 3151.4 1804.5 C3152.9 1810.8 3156.9 1834.7 3158.6 1838.2 C3160.3 1841.7 3168.6 1842.2 3170.6 1843.1 C3172.6 1844.0 3179.0 1855.7 3180.3 1847.9 C3181.6 1840.1 3184.2 1769.1 3185.1 1756.3 C3186.0 1743.5 3188.6 1707.8 3189.9 1705.6 C3191.2 1703.4 3198.1 1725.5 3199.6 1732.2 C3201.1 1738.9 3205.5 1784.7 3206.8 1780.4 C3208.1 1776.1 3212.5 1690.4 3214.0 1683.9 C3215.5 1677.4 3222.2 1712.9 3223.7 1708.1 C3225.2 1703.3 3229.2 1639.2 3230.9 1630.9 C3232.6 1622.6 3241.5 1624.6 3243.0 1616.4 C3244.5 1608.2 3246.9 1559.3 3247.8 1539.3 C3248.7 1519.3 3251.7 1412.0 3252.6 1394.6 C3253.5 1377.2 3256.1 1349.0 3257.4 1346.4 C3258.7 1343.8 3265.6 1357.5 3267.1 1365.7 C3268.6 1373.9 3272.6 1431.5 3274.3 1438.0 C3276.0 1444.5 3284.4 1441.9 3286.4 1438.0 C3288.4 1434.1 3294.3 1401.8 3296.0 1394.6 C3297.7 1387.4 3303.9 1358.9 3305.6 1358.5 C3307.3 1358.1 3313.8 1380.0 3315.3 1389.8 C3316.8 1399.6 3321.4 1454.8 3322.5 1467.0 C3323.6 1479.2 3325.8 1517.0 3327.3 1524.8 C3328.8 1532.6 3337.4 1555.5 3339.4 1553.8 C3341.4 1552.1 3347.5 1512.0 3349.0 1505.5 C3350.5 1499.0 3355.0 1483.1 3356.3 1481.4 C3357.6 1479.7 3362.2 1482.8 3363.5 1486.3 C3364.8 1489.8 3369.4 1523.0 3370.7 1520.0 C3372.0 1517.0 3376.5 1459.9 3378.0 1452.5 C3379.5 1445.1 3385.9 1444.1 3387.6 1438.0 C3389.3 1431.9 3395.3 1387.6 3397.3 1385.0 C3399.3 1382.4 3407.4 1406.9 3409.3 1409.1 C3411.2 1411.3 3417.4 1404.8 3418.9 1409.1 C3420.4 1413.4 3424.9 1449.1 3426.2 1457.3 C3427.5 1465.5 3431.7 1500.3 3433.4 1500.7 C3435.1 1501.1 3443.2 1467.8 3445.5 1462.2 C3447.8 1456.6 3457.3 1441.0 3459.0 1438.3 C3460.7 1435.6 3463.5 1431.8 3464.8 1431.7 C3466.1 1431.6 3471.6 1435.3 3472.9 1437.1 C3474.2 1438.9 3477.5 1454.1 3479.5 1451.9 C3481.5 1449.7 3492.6 1421.1 3494.6 1412.7 C3496.6 1404.3 3500.1 1369.4 3501.2 1358.4 C3502.3 1347.4 3505.5 1298.7 3506.7 1290.6 C3507.9 1282.5 3513.5 1269.9 3514.5 1268.9 C3515.5 1267.9 3517.0 1273.4 3517.5 1279.5 C3518.0 1285.6 3519.2 1325.9 3519.6 1336.7 C3520.0 1347.5 3521.0 1391.6 3521.7 1399.1 C3522.4 1406.6 3525.9 1417.3 3526.9 1419.6 C3527.9 1421.9 3531.5 1427.5 3532.6 1424.7 C3533.7 1421.9 3537.4 1392.5 3538.9 1388.0 C3540.4 1383.5 3547.7 1376.4 3549.5 1375.0 C3551.3 1373.6 3557.2 1373.1 3558.5 1372.0 C3559.8 1370.9 3563.3 1364.3 3564.5 1362.9 C3565.7 1361.5 3570.9 1357.8 3572.1 1356.9 C3573.3 1356.0 3577.2 1354.0 3578.1 1352.4 C3579.0 1350.8 3581.7 1340.4 3582.6 1338.8 C3583.5 1337.2 3587.2 1334.3 3588.6 1334.3 C3590.0 1334.3 3596.5 1336.8 3597.7 1338.8 C3598.9 1340.8 3601.1 1354.5 3602.2 1356.9 C3603.3 1359.3 3608.2 1364.4 3609.7 1366.0 C3611.2 1367.6 3617.3 1372.6 3618.8 1375.0 C3620.3 1377.4 3625.1 1389.0 3626.3 1393.1 C3627.5 1397.2 3630.8 1417.4 3632.3 1420.2 C3633.8 1423.0 3641.4 1423.3 3642.9 1424.7 C3644.4 1426.1 3647.8 1430.7 3648.9 1435.3 C3650.0 1439.9 3653.9 1467.9 3654.9 1475.4 C3655.9 1482.9 3658.5 1517.4 3659.5 1518.5 C3660.5 1519.6 3664.0 1491.1 3665.5 1487.4 C3667.0 1483.7 3674.0 1478.9 3676.0 1477.5 C3678.0 1476.1 3686.2 1471.4 3688.1 1471.4 C3690.0 1471.4 3695.6 1475.1 3697.1 1477.5 C3698.6 1479.9 3703.3 1491.1 3704.7 1498.6 C3706.1 1506.1 3711.0 1559.0 3712.2 1560.7 C3713.4 1562.4 3717.1 1521.8 3718.2 1517.6 C3719.3 1513.4 3723.2 1515.6 3724.3 1513.6 C3725.4 1511.6 3729.0 1499.4 3730.3 1495.6 C3731.7 1491.8 3737.8 1475.1 3739.3 1471.4 C3740.8 1467.7 3745.4 1456.8 3746.9 1454.9 C3748.4 1453.0 3754.3 1449.9 3755.9 1450.3 C3757.5 1450.7 3763.6 1455.2 3764.9 1459.4 C3766.2 1463.6 3769.1 1496.6 3770.1 1496.5 C3771.1 1496.4 3774.3 1461.6 3775.5 1457.9 C3776.7 1454.2 3781.6 1454.8 3783.0 1454.9 C3784.4 1455.0 3789.4 1460.1 3790.6 1459.4 C3791.8 1458.7 3795.2 1449.7 3796.6 1447.3 C3797.9 1444.9 3804.0 1434.2 3805.6 1432.3 C3807.2 1430.4 3813.1 1426.2 3814.7 1426.2 C3816.3 1426.2 3822.2 1430.7 3823.7 1432.3 C3825.2 1433.9 3829.7 1443.1 3831.3 1444.3 C3832.9 1445.5 3840.0 1445.8 3841.8 1445.8 C3843.6 1445.8 3849.4 1440.6 3850.8 1444.3 C3852.2 1448.0 3855.9 1490.0 3856.9 1487.4 C3857.9 1484.8 3860.5 1423.0 3861.4 1415.1 C3862.3 1407.2 3866.2 1400.7 3867.4 1399.1 C3868.6 1397.5 3873.6 1397.6 3875.0 1397.6 C3876.4 1397.6 3881.4 1400.6 3882.5 1399.1 C3883.6 1397.6 3885.9 1383.7 3887.0 1381.0 C3888.1 1378.3 3893.4 1370.3 3894.5 1369.0 C3895.6 1367.7 3898.1 1366.0 3899.1 1366.0 C3900.1 1366.0 3904.7 1369.1 3906.1 1369.2 C3907.5 1369.3 3914.0 1367.2 3915.1 1367.4 C3916.2 1367.6 3918.0 1366.6 3918.7 1371.8 C3919.4 1377.0 3922.6 1427.2 3923.4 1424.9 C3924.2 1422.6 3926.4 1354.7 3927.8 1346.4 C3929.2 1338.1 3936.8 1333.2 3938.6 1333.0 C3940.4 1332.8 3946.2 1341.0 3947.7 1343.9 C3949.2 1346.8 3953.4 1362.0 3954.9 1365.6 C3956.4 1369.2 3962.5 1379.8 3964.0 1383.7 C3965.5 1387.6 3970.1 1404.1 3971.2 1409.0 C3972.3 1413.9 3975.5 1430.7 3976.6 1438.0 C3977.7 1445.3 3981.9 1488.6 3983.1 1490.1 C3984.3 1491.6 3989.1 1455.0 3990.4 1455.0 C3991.7 1455.0 3996.6 1493.4 3997.6 1490.1 C3998.6 1486.8 4000.6 1425.6 4001.2 1418.8 C4001.8 1412.0 4002.8 1414.6 4003.8 1414.4 C4004.8 1414.2 4011.3 1415.8 4012.8 1416.3 C4014.3 1416.8 4018.7 1420.4 4020.0 1419.9 C4021.3 1419.4 4026.0 1411.6 4027.3 1410.8 C4028.6 1410.0 4033.2 1410.0 4034.5 1410.8 C4035.8 1411.6 4040.7 1416.0 4041.8 1419.9 C4042.9 1423.8 4046.3 1454.7 4047.2 1453.9 C4048.1 1453.1 4050.7 1417.9 4051.9 1411.5 C4053.1 1405.1 4059.4 1389.1 4060.9 1382.6 C4062.4 1376.1 4067.1 1347.0 4068.2 1339.2 C4069.3 1331.4 4072.7 1303.6 4073.6 1295.8 C4074.5 1288.0 4077.0 1257.2 4077.9 1252.4 C4078.8 1247.6 4082.1 1242.9 4083.4 1242.6 C4084.7 1242.3 4090.9 1247.4 4092.4 1248.7 C4093.9 1250.0 4098.8 1254.8 4099.6 1257.1 C4100.4 1259.4 4101.4 1268.0 4101.8 1274.1 C4102.2 1280.2 4103.5 1313.6 4104.0 1324.7 C4104.5 1335.8 4107.0 1384.1 4107.6 1397.1 C4108.2 1410.1 4110.6 1456.4 4111.2 1469.4 C4111.8 1482.4 4114.1 1528.8 4114.8 1541.8 C4115.5 1554.8 4117.8 1600.6 4118.5 1614.2 C4119.2 1627.8 4121.0 1688.5 4122.1 1692.7 C4123.2 1696.9 4128.9 1665.3 4130.4 1661.2 C4131.9 1657.1 4137.4 1651.6 4138.7 1646.7 C4140.0 1641.8 4143.5 1611.7 4144.9 1606.9 C4146.3 1602.1 4152.6 1594.1 4153.9 1593.5 C4155.2 1592.9 4158.6 1597.8 4159.3 1599.7 C4160.0 1601.6 4161.2 1609.6 4161.9 1614.2 C4162.6 1618.8 4166.5 1642.2 4167.3 1650.3 C4168.1 1658.4 4170.1 1692.9 4170.9 1704.6 C4171.7 1716.3 4174.6 1768.2 4176.3 1780.2 C4178.0 1792.2 4188.0 1834.1 4190.3 1837.5 C4192.6 1840.9 4200.6 1822.5 4202.3 1818.2 C4204.0 1813.9 4208.3 1792.8 4209.6 1789.3 C4210.9 1785.8 4215.5 1778.0 4216.8 1779.7 C4218.1 1781.4 4222.7 1800.8 4224.0 1808.6 C4225.3 1816.4 4229.8 1865.5 4231.3 1866.4 C4232.8 1867.3 4239.2 1819.1 4240.9 1818.2 C4242.6 1817.3 4249.0 1849.4 4250.5 1856.8 C4252.0 1864.2 4256.3 1898.9 4257.8 1900.2 C4259.3 1901.5 4266.0 1862.6 4267.4 1871.3 C4268.8 1880.0 4272.4 1991.0 4273.7 1996.6 C4275.0 2002.2 4280.3 1945.2 4281.9 1933.9 C4283.5 1922.6 4289.8 1878.7 4291.5 1871.3 C4293.2 1863.9 4299.2 1855.0 4301.2 1852.0 C4303.2 1849.0 4311.0 1840.1 4313.2 1837.5 C4315.4 1834.9 4323.1 1823.9 4325.3 1823.0 C4327.5 1822.1 4335.1 1827.9 4337.3 1827.9 C4339.5 1827.9 4347.9 1820.0 4349.4 1823.0 C4350.9 1826.0 4353.6 1852.9 4354.2 1861.6 C4354.8 1870.3 4355.3 1916.9 4356.6 1919.5 C4357.9 1922.1 4366.5 1892.7 4368.7 1890.5 C4370.9 1888.3 4378.7 1895.4 4380.7 1895.4 C4382.7 1895.4 4389.2 1887.0 4390.4 1890.5 C4391.6 1894.0 4393.1 1933.9 4394.2 1933.9 C4395.3 1933.9 4401.0 1889.6 4402.4 1890.5 C4403.8 1891.4 4408.4 1937.7 4409.7 1943.6 C4411.0 1949.5 4415.8 1963.4 4416.9 1955.6 C4418.0 1947.8 4420.4 1866.8 4421.7 1856.8 C4423.0 1846.8 4429.4 1843.4 4431.4 1844.7 C4433.4 1846.0 4441.5 1866.3 4443.4 1871.3 C4445.3 1876.3 4451.3 1895.4 4453.0 1900.2 C4454.7 1905.0 4460.9 1918.9 4462.7 1924.3 C4464.5 1929.7 4471.6 1963.1 4473.3 1960.5 C4475.0 1957.9 4480.6 1903.9 4482.0 1895.4 C4483.4 1886.9 4487.7 1869.7 4489.2 1866.4 C4490.7 1863.1 4497.2 1856.2 4498.9 1859.2 C4500.6 1862.2 4506.6 1897.8 4508.5 1900.2 C4510.4 1902.6 4518.5 1887.4 4520.5 1885.7 C4522.5 1884.0 4528.7 1885.2 4530.2 1880.9 C4531.7 1876.6 4535.7 1841.6 4537.4 1837.5 C4539.1 1833.4 4547.5 1833.4 4549.5 1835.1 C4551.5 1836.8 4557.6 1853.1 4559.1 1856.8 C4560.6 1860.5 4564.7 1877.8 4566.4 1876.1 C4568.1 1874.4 4576.2 1842.7 4578.4 1837.5 C4580.6 1832.3 4588.8 1823.0 4590.5 1818.2 C4592.2 1813.4 4596.2 1786.7 4597.7 1784.5 C4599.2 1782.3 4605.6 1794.1 4607.3 1794.1 C4609.0 1794.1 4615.3 1783.2 4617.0 1784.5 C4618.7 1785.8 4624.9 1805.8 4626.6 1808.6 C4628.3 1811.4 4634.3 1816.2 4636.3 1815.8 C4638.3 1815.4 4646.6 1801.0 4648.3 1803.8 C4650.0 1806.6 4654.5 1839.8 4655.6 1847.2 C4656.7 1854.6 4659.1 1879.2 4660.4 1885.7 C4661.7 1892.2 4668.5 1911.7 4670.0 1919.5 C4671.5 1927.3 4675.6 1967.3 4677.3 1972.5 C4679.0 1977.7 4687.4 1980.8 4689.3 1977.3 C4691.2 1973.8 4697.2 1939.1 4698.9 1933.9 C4700.6 1928.7 4706.4 1921.9 4708.6 1919.5 C4710.8 1917.1 4720.9 1907.4 4723.1 1907.4 C4725.3 1907.4 4731.2 1918.8 4732.7 1919.5 C4734.2 1920.2 4738.4 1908.2 4739.9 1914.7 C4741.4 1921.2 4748.1 1988.8 4749.6 1991.8 C4751.1 1994.8 4755.7 1944.9 4756.8 1948.4 C4757.9 1951.9 4760.7 2014.3 4761.6 2030.4 C4762.5 2046.5 4765.4 2113.8 4766.5 2126.8 C4767.6 2139.8 4772.2 2168.1 4773.7 2175.0 C4775.2 2181.9 4781.6 2199.7 4783.3 2204.0 C4785.0 2208.3 4791.5 2227.1 4793.0 2223.2 C4794.5 2219.3 4798.7 2163.2 4800.2 2160.6 C4801.7 2158.0 4808.3 2195.2 4809.8 2194.3 C4811.3 2193.4 4815.8 2157.4 4817.1 2150.9 C4818.4 2144.4 4823.7 2124.6 4824.3 2122.0" fill="none" stroke="#120312" stroke-width="22.5" stroke-linejoin="round" stroke-linecap="round" clip-path="url(#above)"/>
<path d="M404.5 2338.2 C405.4 2342.6 412.2 2393.0 414.6 2386.7 C417.0 2380.4 429.0 2278.6 431.5 2267.7 C434.0 2256.8 440.9 2260.4 442.5 2265.6 C444.1 2270.8 448.2 2321.1 449.6 2325.5 C451.0 2329.9 456.2 2324.3 458.1 2315.0 C460.0 2305.7 468.5 2238.1 470.8 2222.1 C473.1 2206.1 481.1 2147.6 483.4 2137.7 C485.7 2127.8 494.0 2111.3 496.1 2112.4 C498.2 2113.5 504.7 2145.1 506.6 2150.4 C508.5 2155.7 515.3 2163.9 517.2 2171.5 C519.1 2179.1 525.6 2232.1 527.7 2234.8 C529.8 2237.5 537.9 2206.7 540.4 2201.0 C542.9 2195.3 553.0 2177.4 555.2 2171.5 C557.4 2165.6 563.0 2134.8 564.9 2135.6 C566.8 2136.4 574.7 2172.1 576.3 2179.9 C577.9 2187.7 581.3 2217.9 582.6 2222.1 C583.9 2226.3 589.8 2221.7 591.1 2226.3 C592.4 2230.9 595.9 2270.1 597.4 2272.8 C598.9 2275.5 605.8 2262.0 607.9 2255.9 C610.0 2249.8 618.3 2208.6 620.6 2205.2 C622.9 2201.8 631.4 2217.3 633.3 2217.9 C635.2 2218.5 639.8 2208.2 641.7 2211.6 C643.6 2215.0 651.7 2254.2 654.4 2255.9 C657.1 2257.6 669.0 2225.3 671.3 2230.6 C673.6 2235.9 678.0 2310.4 679.7 2315.0 C681.4 2319.6 688.4 2282.3 690.3 2281.2 C692.2 2280.1 698.9 2298.9 700.8 2302.3 C702.7 2305.7 710.1 2315.0 711.4 2319.2 C712.7 2323.4 714.3 2347.3 715.6 2348.8 C716.9 2350.3 723.8 2331.9 726.1 2336.1 C728.4 2340.3 738.4 2398.6 740.9 2395.2 C743.4 2391.8 751.7 2304.9 753.6 2298.1 C755.5 2291.3 760.3 2327.6 762.0 2319.2 C763.7 2310.8 770.5 2211.7 772.6 2205.2 C774.7 2198.7 782.9 2245.5 785.2 2247.4 C787.5 2249.3 795.8 2224.0 797.9 2226.3 C800.0 2228.6 806.4 2270.3 808.5 2272.8 C810.6 2275.3 818.4 2255.5 821.1 2253.8 C823.8 2252.1 835.5 2246.0 838.0 2253.8 C840.5 2261.6 846.9 2334.8 848.6 2340.3 C850.3 2345.8 855.5 2311.6 857.0 2315.0 C858.5 2318.4 863.9 2377.5 865.4 2378.3 C866.9 2379.1 871.6 2332.0 873.9 2323.4 C876.2 2314.8 888.0 2276.5 890.8 2283.3 C893.6 2290.1 902.8 2393.5 905.5 2399.4 C908.2 2405.3 918.2 2355.6 920.3 2348.8 C922.4 2342.0 926.9 2323.8 928.8 2323.4 C930.7 2323.0 939.5 2349.8 941.4 2344.5 C943.3 2339.2 948.6 2279.1 949.9 2264.3 C951.2 2249.5 954.9 2193.8 956.2 2179.9 C957.5 2166.0 962.9 2111.4 964.6 2110.3 C966.3 2109.2 973.1 2160.9 975.2 2167.2 C977.3 2173.5 985.7 2182.9 987.9 2179.9 C990.1 2176.9 998.5 2135.8 1000.1 2133.5 C1001.7 2131.2 1004.0 2160.7 1005.3 2154.6 C1006.6 2148.5 1013.1 2067.4 1014.6 2065.9 C1016.1 2064.4 1020.6 2127.4 1022.2 2137.7 C1023.8 2148.0 1031.1 2187.5 1032.8 2179.9 C1034.5 2172.3 1040.3 2077.6 1041.2 2053.3 C1042.1 2029.0 1042.2 1922.7 1043.3 1909.8 C1044.4 1896.9 1052.0 1913.2 1053.9 1909.8 C1055.8 1906.4 1062.5 1871.0 1064.4 1871.8 C1066.3 1872.6 1073.1 1909.5 1075.0 1918.2 C1076.9 1926.9 1084.2 1961.6 1085.5 1968.8 C1086.8 1976.0 1088.5 1998.0 1089.8 1998.4 C1091.1 1998.8 1098.4 1974.6 1100.3 1973.1 C1102.2 1971.6 1109.0 1977.7 1110.9 1981.5 C1112.8 1985.3 1119.6 2010.0 1121.4 2015.3 C1123.2 2020.6 1129.6 2043.6 1131.1 2040.6 C1132.6 2037.6 1136.9 1987.4 1138.3 1981.5 C1139.7 1975.6 1145.0 1974.4 1146.7 1975.2 C1148.4 1976.0 1155.6 1983.0 1157.3 1990.0 C1159.0 1997.0 1164.2 2036.2 1165.7 2053.3 C1167.2 2070.4 1172.8 2162.4 1174.2 2179.9 C1175.6 2197.4 1180.5 2245.1 1181.8 2247.4 C1183.1 2249.7 1187.3 2207.9 1188.9 2205.2 C1190.5 2202.5 1197.2 2220.2 1199.5 2217.9 C1201.8 2215.6 1212.4 2175.7 1214.3 2179.9 C1216.2 2184.1 1219.1 2252.1 1220.6 2264.3 C1222.1 2276.5 1229.5 2313.9 1231.2 2315.0 C1232.9 2316.1 1238.1 2280.4 1239.6 2277.0 C1241.1 2273.6 1246.5 2274.3 1248.0 2277.0 C1249.5 2279.7 1255.2 2309.2 1256.5 2306.5 C1257.8 2303.8 1261.5 2252.0 1262.8 2247.4 C1264.1 2242.8 1269.8 2260.1 1271.3 2255.9 C1272.8 2251.7 1278.0 2207.5 1279.7 2201.0 C1281.4 2194.5 1288.0 2183.7 1290.3 2184.1 C1292.6 2184.5 1302.5 2204.8 1305.0 2205.2 C1307.5 2205.6 1315.4 2191.0 1317.7 2188.3 C1320.0 2185.6 1328.3 2178.0 1330.4 2175.7 C1332.5 2173.4 1339.6 2168.3 1340.9 2163.0 C1342.2 2157.7 1343.8 2121.9 1345.1 2116.6 C1346.4 2111.3 1353.9 2107.3 1355.7 2103.9 C1357.5 2100.5 1363.3 2078.2 1365.0 2078.6 C1366.7 2079.0 1372.9 2105.1 1374.7 2108.1 C1376.5 2111.1 1383.5 2107.5 1385.2 2112.4 C1386.9 2117.3 1392.4 2159.2 1393.7 2163.0 C1395.0 2166.8 1398.9 2149.8 1400.0 2154.6 C1401.1 2159.4 1404.6 2212.0 1406.3 2215.8 C1408.0 2219.6 1416.9 2198.3 1419.0 2196.8 C1421.1 2195.3 1427.8 2204.4 1429.6 2198.9 C1431.4 2193.4 1437.4 2137.3 1439.3 2135.6 C1441.2 2133.9 1449.3 2177.4 1450.7 2179.9 C1452.1 2182.4 1453.6 2166.0 1454.9 2163.0 C1456.2 2160.0 1463.7 2143.8 1465.4 2146.1 C1467.1 2148.4 1472.4 2183.0 1473.9 2188.3 C1475.4 2193.6 1481.0 2197.6 1482.3 2205.2 C1483.6 2212.8 1487.2 2269.0 1488.7 2272.8 C1490.2 2276.6 1497.5 2248.9 1499.2 2247.4 C1500.9 2245.9 1506.3 2258.7 1507.6 2255.9 C1508.9 2253.1 1512.1 2216.6 1514.0 2215.8 C1515.9 2215.0 1526.3 2248.0 1528.8 2247.4 C1531.3 2246.8 1539.1 2212.9 1541.4 2209.5 C1543.7 2206.1 1552.2 2208.0 1554.1 2209.5 C1556.0 2211.0 1561.0 2217.6 1562.5 2226.3 C1564.0 2235.0 1569.1 2297.4 1571.0 2306.5 C1572.9 2315.6 1581.5 2323.0 1583.6 2327.6 C1585.7 2332.2 1592.6 2351.5 1594.2 2357.2 C1595.8 2362.9 1599.5 2387.0 1601.2 2391.1 C1602.9 2395.2 1611.7 2396.7 1613.3 2403.2 C1614.9 2409.7 1617.9 2450.4 1619.3 2463.4 C1620.7 2476.4 1626.5 2534.2 1628.4 2547.8 C1630.3 2561.4 1638.0 2604.9 1640.4 2614.1 C1642.8 2623.3 1653.3 2643.2 1655.5 2650.3 C1657.7 2657.4 1663.1 2682.2 1664.5 2692.5 C1665.9 2702.8 1669.8 2743.1 1670.6 2764.8 C1671.4 2786.5 1672.7 2909.2 1673.0 2933.6 C1673.3 2958.0 1673.6 3026.9 1674.2 3036.1 C1674.8 3045.3 1679.4 3045.3 1680.2 3036.1 C1681.0 3026.9 1682.1 2956.9 1682.6 2933.6 C1683.1 2910.3 1685.1 2795.3 1686.2 2776.9 C1687.3 2758.5 1692.6 2740.1 1694.7 2728.7 C1696.8 2717.3 1707.5 2663.3 1709.7 2650.3 C1711.9 2637.3 1717.2 2591.1 1718.8 2584.0 C1720.4 2576.9 1726.2 2580.6 1727.8 2571.9 C1729.4 2563.2 1735.3 2513.1 1736.9 2487.6 C1738.5 2462.1 1744.0 2307.0 1745.9 2288.6 C1747.8 2270.2 1756.2 2289.6 1758.0 2282.6 C1759.8 2275.6 1764.5 2211.4 1765.8 2210.3 C1767.1 2209.2 1771.5 2243.5 1773.0 2270.6 C1774.5 2297.7 1780.5 2471.6 1782.1 2511.7 C1783.7 2551.8 1789.8 2716.6 1791.1 2716.6 C1792.4 2716.6 1795.7 2533.4 1797.1 2511.7 C1798.5 2490.0 1804.6 2486.4 1806.2 2475.5 C1807.8 2464.6 1813.9 2404.1 1815.2 2391.1 C1816.5 2378.1 1819.6 2337.3 1821.2 2330.8 C1822.8 2324.3 1830.6 2316.6 1833.3 2318.8 C1836.0 2321.0 1848.7 2346.2 1851.4 2354.9 C1854.1 2363.6 1861.5 2404.3 1863.4 2415.2 C1865.3 2426.1 1870.6 2475.5 1872.5 2475.5 C1874.4 2475.5 1882.6 2428.2 1884.5 2415.2 C1886.4 2402.2 1892.0 2344.9 1893.6 2330.8 C1895.2 2316.7 1901.0 2267.2 1902.6 2258.5 C1904.2 2249.8 1909.5 2233.3 1911.7 2234.4 C1913.9 2235.5 1924.3 2270.1 1926.7 2270.6 C1929.1 2271.1 1936.7 2241.2 1938.8 2240.4 C1940.9 2239.6 1948.3 2254.9 1950.0 2261.7 C1951.7 2268.5 1956.1 2309.5 1957.5 2316.0 C1958.9 2322.5 1963.7 2336.3 1965.1 2334.1 C1966.5 2331.9 1971.1 2300.3 1972.6 2291.9 C1974.1 2283.5 1980.1 2247.1 1981.7 2240.6 C1983.3 2234.1 1989.1 2219.5 1990.7 2219.5 C1992.3 2219.5 1997.9 2234.9 1999.7 2240.6 C2001.5 2246.3 2008.8 2277.9 2010.3 2282.8 C2011.8 2287.7 2015.1 2294.1 2016.3 2294.9 C2017.5 2295.7 2022.5 2288.7 2023.9 2291.9 C2025.3 2295.1 2029.9 2328.3 2031.4 2331.0 C2032.9 2333.7 2039.2 2326.9 2040.4 2322.0 C2041.6 2317.1 2044.0 2285.5 2045.0 2276.8 C2046.0 2268.1 2049.8 2232.0 2051.0 2225.5 C2052.2 2219.0 2057.1 2206.6 2058.5 2204.4 C2059.9 2202.2 2064.7 2199.2 2066.1 2201.4 C2067.5 2203.6 2072.7 2232.7 2073.6 2228.6 C2074.5 2224.5 2076.1 2167.3 2076.6 2156.2 C2077.1 2145.1 2078.6 2111.0 2079.6 2105.0 C2080.6 2099.0 2085.6 2091.5 2087.2 2089.9 C2088.8 2088.3 2095.9 2083.1 2097.7 2086.9 C2099.5 2090.7 2105.1 2131.3 2106.7 2132.1 C2108.3 2132.9 2114.3 2102.1 2115.8 2095.9 C2117.3 2089.7 2122.1 2066.9 2123.3 2062.8 C2124.5 2058.7 2127.9 2046.9 2129.4 2050.7 C2130.9 2054.5 2138.4 2103.4 2139.9 2105.0 C2141.4 2106.6 2144.9 2073.1 2145.9 2068.8 C2146.9 2064.5 2149.4 2060.2 2150.5 2056.7 C2151.6 2053.2 2156.7 2032.4 2158.0 2029.6 C2159.3 2026.8 2163.2 2023.7 2164.6 2025.1 C2166.0 2026.5 2171.8 2037.0 2173.1 2044.7 C2174.4 2052.4 2178.3 2100.7 2179.1 2111.0 C2179.9 2121.3 2181.3 2159.2 2182.1 2159.2 C2182.9 2159.2 2187.0 2114.2 2188.1 2111.0 C2189.2 2107.8 2193.1 2125.3 2194.2 2123.1 C2195.3 2120.9 2198.9 2090.9 2200.2 2086.9 C2201.5 2082.9 2206.2 2074.5 2208.1 2078.6 C2210.0 2082.7 2219.5 2129.0 2221.7 2132.9 C2223.9 2136.8 2230.9 2126.0 2232.6 2122.1 C2234.3 2118.2 2239.2 2092.9 2240.7 2089.5 C2242.2 2086.1 2247.3 2081.7 2248.8 2084.1 C2250.3 2086.5 2255.3 2120.0 2257.0 2116.6 C2258.7 2113.2 2266.1 2053.2 2267.8 2046.1 C2269.5 2039.0 2274.3 2034.6 2276.0 2038.0 C2277.7 2041.4 2285.1 2072.6 2286.8 2084.1 C2288.5 2095.6 2293.3 2154.3 2295.0 2165.5 C2296.7 2176.7 2304.1 2209.9 2305.8 2208.9 C2307.5 2207.9 2312.3 2161.9 2313.9 2154.6 C2315.5 2147.3 2322.0 2126.0 2323.7 2127.5 C2325.4 2129.0 2331.1 2165.0 2332.9 2170.9 C2334.7 2176.8 2342.1 2185.8 2343.8 2192.6 C2345.5 2199.4 2349.9 2234.7 2351.9 2246.9 C2353.9 2259.1 2363.5 2327.2 2365.5 2328.2 C2367.5 2329.2 2371.9 2265.0 2373.6 2257.7 C2375.3 2250.4 2382.8 2246.9 2384.5 2246.9 C2386.2 2246.9 2390.6 2261.1 2392.6 2257.7 C2394.6 2254.3 2404.2 2212.3 2406.2 2208.9 C2408.2 2205.5 2412.8 2219.7 2414.3 2219.7 C2415.8 2219.7 2421.0 2207.9 2422.5 2208.9 C2424.0 2209.9 2428.9 2228.2 2430.6 2230.6 C2432.3 2233.0 2439.8 2230.1 2441.5 2236.0 C2443.2 2241.9 2448.4 2286.9 2449.6 2295.7 C2450.8 2304.5 2453.8 2334.7 2455.0 2333.7 C2456.2 2332.7 2461.5 2290.2 2463.2 2284.8 C2464.9 2279.4 2472.5 2267.6 2474.0 2274.0 C2475.5 2280.4 2478.7 2341.7 2479.4 2355.4 C2480.1 2369.1 2480.9 2422.0 2482.1 2425.9 C2483.3 2429.8 2491.3 2414.9 2493.0 2398.8 C2494.7 2382.7 2499.7 2265.9 2501.1 2246.9 C2502.5 2227.9 2507.0 2187.2 2508.2 2187.2 C2509.4 2187.2 2513.2 2229.8 2514.7 2246.9 C2516.2 2264.0 2523.0 2374.7 2524.5 2377.1 C2526.0 2379.5 2529.7 2305.3 2531.0 2274.0 C2532.3 2242.7 2537.6 2066.4 2539.1 2029.8 C2540.6 1993.2 2546.1 1885.6 2547.3 1867.0 C2548.5 1848.4 2551.5 1828.0 2552.7 1823.6 C2553.9 1819.2 2559.6 1814.3 2560.8 1818.2 C2562.0 1822.1 2565.2 1873.8 2566.3 1867.0 C2567.4 1860.2 2572.1 1742.2 2573.3 1742.2 C2574.5 1742.2 2579.0 1844.0 2579.8 1867.0 C2580.6 1890.0 2581.5 1991.9 2582.5 1997.3 C2583.5 2002.7 2589.0 1933.5 2590.7 1926.7 C2592.4 1919.9 2600.0 1919.3 2601.5 1921.3 C2603.0 1923.3 2605.7 1955.2 2606.9 1948.4 C2608.1 1941.6 2613.6 1859.0 2615.1 1845.3 C2616.6 1831.6 2621.5 1796.0 2623.2 1796.5 C2624.9 1797.0 2632.1 1846.2 2634.1 1850.8 C2636.1 1855.4 2643.2 1849.5 2644.9 1848.0 C2646.6 1846.5 2651.9 1841.1 2653.1 1834.5 C2654.3 1827.9 2657.3 1782.9 2658.5 1774.8 C2659.7 1766.7 2665.1 1742.1 2666.6 1745.0 C2668.1 1747.9 2672.8 1801.1 2674.8 1807.4 C2676.8 1813.7 2686.1 1813.1 2688.3 1815.5 C2690.5 1817.9 2697.0 1830.4 2699.2 1834.5 C2701.4 1838.6 2710.4 1858.7 2712.8 1861.6 C2715.2 1864.5 2723.6 1864.1 2726.3 1867.0 C2729.0 1869.9 2739.9 1891.8 2742.6 1894.2 C2745.3 1896.6 2754.2 1899.1 2756.2 1894.2 C2758.2 1889.3 2762.7 1848.7 2764.3 1839.9 C2765.9 1831.1 2772.1 1797.5 2774.1 1796.5 C2776.1 1795.5 2783.9 1823.2 2786.0 1829.1 C2788.1 1835.0 2795.4 1865.0 2796.9 1861.6 C2798.4 1858.2 2801.3 1799.2 2802.3 1791.1 C2803.3 1783.0 2806.5 1770.6 2807.7 1772.1 C2808.9 1773.6 2814.3 1796.4 2815.8 1807.4 C2817.3 1818.4 2822.3 1888.3 2824.0 1894.2 C2825.7 1900.1 2833.1 1873.0 2834.8 1872.5 C2836.5 1872.0 2841.5 1887.7 2843.0 1888.7 C2844.5 1889.7 2849.6 1881.8 2851.1 1883.3 C2852.6 1884.8 2857.4 1903.8 2859.3 1905.0 C2861.2 1906.2 2869.3 1895.2 2871.7 1896.1 C2874.1 1897.0 2883.4 1911.5 2886.2 1915.4 C2889.0 1919.3 2900.2 1940.8 2903.0 1939.5 C2905.8 1938.2 2915.3 1903.5 2917.5 1900.9 C2919.7 1898.3 2925.1 1913.2 2927.1 1910.6 C2929.1 1908.0 2937.5 1873.3 2939.2 1872.0 C2940.9 1870.7 2944.7 1891.3 2946.4 1896.1 C2948.1 1900.9 2956.3 1926.3 2958.5 1925.0 C2960.7 1923.7 2967.9 1887.5 2970.5 1881.6 C2973.1 1875.7 2984.4 1860.8 2987.4 1859.9 C2990.4 1859.0 3001.3 1872.0 3004.3 1872.0 C3007.3 1872.0 3018.8 1859.0 3021.2 1859.9 C3023.6 1860.8 3029.3 1875.7 3030.8 1881.6 C3032.3 1887.5 3036.5 1918.9 3038.0 1925.0 C3039.5 1931.1 3046.2 1949.5 3047.7 1949.1 C3049.2 1948.7 3053.6 1922.4 3054.9 1920.2 C3056.2 1918.0 3060.7 1928.5 3062.2 1925.0 C3063.7 1921.5 3070.3 1883.8 3071.8 1881.6 C3073.3 1879.4 3077.5 1897.4 3079.0 1900.9 C3080.5 1904.4 3086.7 1919.8 3088.7 1920.2 C3090.7 1920.6 3099.0 1911.8 3100.7 1905.7 C3102.4 1899.6 3106.8 1862.7 3108.0 1852.7 C3109.2 1842.7 3112.9 1793.1 3114.2 1794.8 C3115.5 1796.5 3120.6 1871.1 3122.4 1872.0 C3124.2 1872.9 3132.8 1813.8 3134.5 1804.5 C3136.2 1795.2 3140.2 1768.3 3141.7 1768.3 C3143.2 1768.3 3149.9 1798.2 3151.4 1804.5 C3152.9 1810.8 3156.9 1834.7 3158.6 1838.2 C3160.3 1841.7 3168.6 1842.2 3170.6 1843.1 C3172.6 1844.0 3179.0 1855.7 3180.3 1847.9 C3181.6 1840.1 3184.2 1769.1 3185.1 1756.3 C3186.0 1743.5 3188.6 1707.8 3189.9 1705.6 C3191.2 1703.4 3198.1 1725.5 3199.6 1732.2 C3201.1 1738.9 3205.5 1784.7 3206.8 1780.4 C3208.1 1776.1 3212.5 1690.4 3214.0 1683.9 C3215.5 1677.4 3222.2 1712.9 3223.7 1708.1 C3225.2 1703.3 3229.2 1639.2 3230.9 1630.9 C3232.6 1622.6 3241.5 1624.6 3243.0 1616.4 C3244.5 1608.2 3246.9 1559.3 3247.8 1539.3 C3248.7 1519.3 3251.7 1412.0 3252.6 1394.6 C3253.5 1377.2 3256.1 1349.0 3257.4 1346.4 C3258.7 1343.8 3265.6 1357.5 3267.1 1365.7 C3268.6 1373.9 3272.6 1431.5 3274.3 1438.0 C3276.0 1444.5 3284.4 1441.9 3286.4 1438.0 C3288.4 1434.1 3294.3 1401.8 3296.0 1394.6 C3297.7 1387.4 3303.9 1358.9 3305.6 1358.5 C3307.3 1358.1 3313.8 1380.0 3315.3 1389.8 C3316.8 1399.6 3321.4 1454.8 3322.5 1467.0 C3323.6 1479.2 3325.8 1517.0 3327.3 1524.8 C3328.8 1532.6 3337.4 1555.5 3339.4 1553.8 C3341.4 1552.1 3347.5 1512.0 3349.0 1505.5 C3350.5 1499.0 3355.0 1483.1 3356.3 1481.4 C3357.6 1479.7 3362.2 1482.8 3363.5 1486.3 C3364.8 1489.8 3369.4 1523.0 3370.7 1520.0 C3372.0 1517.0 3376.5 1459.9 3378.0 1452.5 C3379.5 1445.1 3385.9 1444.1 3387.6 1438.0 C3389.3 1431.9 3395.3 1387.6 3397.3 1385.0 C3399.3 1382.4 3407.4 1406.9 3409.3 1409.1 C3411.2 1411.3 3417.4 1404.8 3418.9 1409.1 C3420.4 1413.4 3424.9 1449.1 3426.2 1457.3 C3427.5 1465.5 3431.7 1500.3 3433.4 1500.7 C3435.1 1501.1 3443.2 1467.8 3445.5 1462.2 C3447.8 1456.6 3457.3 1441.0 3459.0 1438.3 C3460.7 1435.6 3463.5 1431.8 3464.8 1431.7 C3466.1 1431.6 3471.6 1435.3 3472.9 1437.1 C3474.2 1438.9 3477.5 1454.1 3479.5 1451.9 C3481.5 1449.7 3492.6 1421.1 3494.6 1412.7 C3496.6 1404.3 3500.1 1369.4 3501.2 1358.4 C3502.3 1347.4 3505.5 1298.7 3506.7 1290.6 C3507.9 1282.5 3513.5 1269.9 3514.5 1268.9 C3515.5 1267.9 3517.0 1273.4 3517.5 1279.5 C3518.0 1285.6 3519.2 1325.9 3519.6 1336.7 C3520.0 1347.5 3521.0 1391.6 3521.7 1399.1 C3522.4 1406.6 3525.9 1417.3 3526.9 1419.6 C3527.9 1421.9 3531.5 1427.5 3532.6 1424.7 C3533.7 1421.9 3537.4 1392.5 3538.9 1388.0 C3540.4 1383.5 3547.7 1376.4 3549.5 1375.0 C3551.3 1373.6 3557.2 1373.1 3558.5 1372.0 C3559.8 1370.9 3563.3 1364.3 3564.5 1362.9 C3565.7 1361.5 3570.9 1357.8 3572.1 1356.9 C3573.3 1356.0 3577.2 1354.0 3578.1 1352.4 C3579.0 1350.8 3581.7 1340.4 3582.6 1338.8 C3583.5 1337.2 3587.2 1334.3 3588.6 1334.3 C3590.0 1334.3 3596.5 1336.8 3597.7 1338.8 C3598.9 1340.8 3601.1 1354.5 3602.2 1356.9 C3603.3 1359.3 3608.2 1364.4 3609.7 1366.0 C3611.2 1367.6 3617.3 1372.6 3618.8 1375.0 C3620.3 1377.4 3625.1 1389.0 3626.3 1393.1 C3627.5 1397.2 3630.8 1417.4 3632.3 1420.2 C3633.8 1423.0 3641.4 1423.3 3642.9 1424.7 C3644.4 1426.1 3647.8 1430.7 3648.9 1435.3 C3650.0 1439.9 3653.9 1467.9 3654.9 1475.4 C3655.9 1482.9 3658.5 1517.4 3659.5 1518.5 C3660.5 1519.6 3664.0 1491.1 3665.5 1487.4 C3667.0 1483.7 3674.0 1478.9 3676.0 1477.5 C3678.0 1476.1 3686.2 1471.4 3688.1 1471.4 C3690.0 1471.4 3695.6 1475.1 3697.1 1477.5 C3698.6 1479.9 3703.3 1491.1 3704.7 1498.6 C3706.1 1506.1 3711.0 1559.0 3712.2 1560.7 C3713.4 1562.4 3717.1 1521.8 3718.2 1517.6 C3719.3 1513.4 3723.2 1515.6 3724.3 1513.6 C3725.4 1511.6 3729.0 1499.4 3730.3 1495.6 C3731.7 1491.8 3737.8 1475.1 3739.3 1471.4 C3740.8 1467.7 3745.4 1456.8 3746.9 1454.9 C3748.4 1453.0 3754.3 1449.9 3755.9 1450.3 C3757.5 1450.7 3763.6 1455.2 3764.9 1459.4 C3766.2 1463.6 3769.1 1496.6 3770.1 1496.5 C3771.1 1496.4 3774.3 1461.6 3775.5 1457.9 C3776.7 1454.2 3781.6 1454.8 3783.0 1454.9 C3784.4 1455.0 3789.4 1460.1 3790.6 1459.4 C3791.8 1458.7 3795.2 1449.7 3796.6 1447.3 C3797.9 1444.9 3804.0 1434.2 3805.6 1432.3 C3807.2 1430.4 3813.1 1426.2 3814.7 1426.2 C3816.3 1426.2 3822.2 1430.7 3823.7 1432.3 C3825.2 1433.9 3829.7 1443.1 3831.3 1444.3 C3832.9 1445.5 3840.0 1445.8 3841.8 1445.8 C3843.6 1445.8 3849.4 1440.6 3850.8 1444.3 C3852.2 1448.0 3855.9 1490.0 3856.9 1487.4 C3857.9 1484.8 3860.5 1423.0 3861.4 1415.1 C3862.3 1407.2 3866.2 1400.7 3867.4 1399.1 C3868.6 1397.5 3873.6 1397.6 3875.0 1397.6 C3876.4 1397.6 3881.4 1400.6 3882.5 1399.1 C3883.6 1397.6 3885.9 1383.7 3887.0 1381.0 C3888.1 1378.3 3893.4 1370.3 3894.5 1369.0 C3895.6 1367.7 3898.1 1366.0 3899.1 1366.0 C3900.1 1366.0 3904.7 1369.1 3906.1 1369.2 C3907.5 1369.3 3914.0 1367.2 3915.1 1367.4 C3916.2 1367.6 3918.0 1366.6 3918.7 1371.8 C3919.4 1377.0 3922.6 1427.2 3923.4 1424.9 C3924.2 1422.6 3926.4 1354.7 3927.8 1346.4 C3929.2 1338.1 3936.8 1333.2 3938.6 1333.0 C3940.4 1332.8 3946.2 1341.0 3947.7 1343.9 C3949.2 1346.8 3953.4 1362.0 3954.9 1365.6 C3956.4 1369.2 3962.5 1379.8 3964.0 1383.7 C3965.5 1387.6 3970.1 1404.1 3971.2 1409.0 C3972.3 1413.9 3975.5 1430.7 3976.6 1438.0 C3977.7 1445.3 3981.9 1488.6 3983.1 1490.1 C3984.3 1491.6 3989.1 1455.0 3990.4 1455.0 C3991.7 1455.0 3996.6 1493.4 3997.6 1490.1 C3998.6 1486.8 4000.6 1425.6 4001.2 1418.8 C4001.8 1412.0 4002.8 1414.6 4003.8 1414.4 C4004.8 1414.2 4011.3 1415.8 4012.8 1416.3 C4014.3 1416.8 4018.7 1420.4 4020.0 1419.9 C4021.3 1419.4 4026.0 1411.6 4027.3 1410.8 C4028.6 1410.0 4033.2 1410.0 4034.5 1410.8 C4035.8 1411.6 4040.7 1416.0 4041.8 1419.9 C4042.9 1423.8 4046.3 1454.7 4047.2 1453.9 C4048.1 1453.1 4050.7 1417.9 4051.9 1411.5 C4053.1 1405.1 4059.4 1389.1 4060.9 1382.6 C4062.4 1376.1 4067.1 1347.0 4068.2 1339.2 C4069.3 1331.4 4072.7 1303.6 4073.6 1295.8 C4074.5 1288.0 4077.0 1257.2 4077.9 1252.4 C4078.8 1247.6 4082.1 1242.9 4083.4 1242.6 C4084.7 1242.3 4090.9 1247.4 4092.4 1248.7 C4093.9 1250.0 4098.8 1254.8 4099.6 1257.1 C4100.4 1259.4 4101.4 1268.0 4101.8 1274.1 C4102.2 1280.2 4103.5 1313.6 4104.0 1324.7 C4104.5 1335.8 4107.0 1384.1 4107.6 1397.1 C4108.2 1410.1 4110.6 1456.4 4111.2 1469.4 C4111.8 1482.4 4114.1 1528.8 4114.8 1541.8 C4115.5 1554.8 4117.8 1600.6 4118.5 1614.2 C4119.2 1627.8 4121.0 1688.5 4122.1 1692.7 C4123.2 1696.9 4128.9 1665.3 4130.4 1661.2 C4131.9 1657.1 4137.4 1651.6 4138.7 1646.7 C4140.0 1641.8 4143.5 1611.7 4144.9 1606.9 C4146.3 1602.1 4152.6 1594.1 4153.9 1593.5 C4155.2 1592.9 4158.6 1597.8 4159.3 1599.7 C4160.0 1601.6 4161.2 1609.6 4161.9 1614.2 C4162.6 1618.8 4166.5 1642.2 4167.3 1650.3 C4168.1 1658.4 4170.1 1692.9 4170.9 1704.6 C4171.7 1716.3 4174.6 1768.2 4176.3 1780.2 C4178.0 1792.2 4188.0 1834.1 4190.3 1837.5 C4192.6 1840.9 4200.6 1822.5 4202.3 1818.2 C4204.0 1813.9 4208.3 1792.8 4209.6 1789.3 C4210.9 1785.8 4215.5 1778.0 4216.8 1779.7 C4218.1 1781.4 4222.7 1800.8 4224.0 1808.6 C4225.3 1816.4 4229.8 1865.5 4231.3 1866.4 C4232.8 1867.3 4239.2 1819.1 4240.9 1818.2 C4242.6 1817.3 4249.0 1849.4 4250.5 1856.8 C4252.0 1864.2 4256.3 1898.9 4257.8 1900.2 C4259.3 1901.5 4266.0 1862.6 4267.4 1871.3 C4268.8 1880.0 4272.4 1991.0 4273.7 1996.6 C4275.0 2002.2 4280.3 1945.2 4281.9 1933.9 C4283.5 1922.6 4289.8 1878.7 4291.5 1871.3 C4293.2 1863.9 4299.2 1855.0 4301.2 1852.0 C4303.2 1849.0 4311.0 1840.1 4313.2 1837.5 C4315.4 1834.9 4323.1 1823.9 4325.3 1823.0 C4327.5 1822.1 4335.1 1827.9 4337.3 1827.9 C4339.5 1827.9 4347.9 1820.0 4349.4 1823.0 C4350.9 1826.0 4353.6 1852.9 4354.2 1861.6 C4354.8 1870.3 4355.3 1916.9 4356.6 1919.5 C4357.9 1922.1 4366.5 1892.7 4368.7 1890.5 C4370.9 1888.3 4378.7 1895.4 4380.7 1895.4 C4382.7 1895.4 4389.2 1887.0 4390.4 1890.5 C4391.6 1894.0 4393.1 1933.9 4394.2 1933.9 C4395.3 1933.9 4401.0 1889.6 4402.4 1890.5 C4403.8 1891.4 4408.4 1937.7 4409.7 1943.6 C4411.0 1949.5 4415.8 1963.4 4416.9 1955.6 C4418.0 1947.8 4420.4 1866.8 4421.7 1856.8 C4423.0 1846.8 4429.4 1843.4 4431.4 1844.7 C4433.4 1846.0 4441.5 1866.3 4443.4 1871.3 C4445.3 1876.3 4451.3 1895.4 4453.0 1900.2 C4454.7 1905.0 4460.9 1918.9 4462.7 1924.3 C4464.5 1929.7 4471.6 1963.1 4473.3 1960.5 C4475.0 1957.9 4480.6 1903.9 4482.0 1895.4 C4483.4 1886.9 4487.7 1869.7 4489.2 1866.4 C4490.7 1863.1 4497.2 1856.2 4498.9 1859.2 C4500.6 1862.2 4506.6 1897.8 4508.5 1900.2 C4510.4 1902.6 4518.5 1887.4 4520.5 1885.7 C4522.5 1884.0 4528.7 1885.2 4530.2 1880.9 C4531.7 1876.6 4535.7 1841.6 4537.4 1837.5 C4539.1 1833.4 4547.5 1833.4 4549.5 1835.1 C4551.5 1836.8 4557.6 1853.1 4559.1 1856.8 C4560.6 1860.5 4564.7 1877.8 4566.4 1876.1 C4568.1 1874.4 4576.2 1842.7 4578.4 1837.5 C4580.6 1832.3 4588.8 1823.0 4590.5 1818.2 C4592.2 1813.4 4596.2 1786.7 4597.7 1784.5 C4599.2 1782.3 4605.6 1794.1 4607.3 1794.1 C4609.0 1794.1 4615.3 1783.2 4617.0 1784.5 C4618.7 1785.8 4624.9 1805.8 4626.6 1808.6 C4628.3 1811.4 4634.3 1816.2 4636.3 1815.8 C4638.3 1815.4 4646.6 1801.0 4648.3 1803.8 C4650.0 1806.6 4654.5 1839.8 4655.6 1847.2 C4656.7 1854.6 4659.1 1879.2 4660.4 1885.7 C4661.7 1892.2 4668.5 1911.7 4670.0 1919.5 C4671.5 1927.3 4675.6 1967.3 4677.3 1972.5 C4679.0 1977.7 4687.4 1980.8 4689.3 1977.3 C4691.2 1973.8 4697.2 1939.1 4698.9 1933.9 C4700.6 1928.7 4706.4 1921.9 4708.6 1919.5 C4710.8 1917.1 4720.9 1907.4 4723.1 1907.4 C4725.3 1907.4 4731.2 1918.8 4732.7 1919.5 C4734.2 1920.2 4738.4 1908.2 4739.9 1914.7 C4741.4 1921.2 4748.1 1988.8 4749.6 1991.8 C4751.1 1994.8 4755.7 1944.9 4756.8 1948.4 C4757.9 1951.9 4760.7 2014.3 4761.6 2030.4 C4762.5 2046.5 4765.4 2113.8 4766.5 2126.8 C4767.6 2139.8 4772.2 2168.1 4773.7 2175.0 C4775.2 2181.9 4781.6 2199.7 4783.3 2204.0 C4785.0 2208.3 4791.5 2227.1 4793.0 2223.2 C4794.5 2219.3 4798.7 2163.2 4800.2 2160.6 C4801.7 2158.0 4808.3 2195.2 4809.8 2194.3 C4811.3 2193.4 4815.8 2157.4 4817.1 2150.9 C4818.4 2144.4 4823.7 2124.6 4824.3 2122.0" fill="none" stroke="#00d964" stroke-width="16.5" stroke-linejoin="round" stroke-linecap="round"/>
<ellipse cx="1677" cy="3040" rx="56" ry="66" fill="#00d964" fill-opacity="0.25"/>
<ellipse cx="1677" cy="3040" rx="34.5" ry="43" fill="#00d964" stroke="#fff" stroke-width="5"/>
<text x="165.5" y="950" font-size="80" font-weight="normal" fill="#6f6f6f" textLength="108" lengthAdjust="spacingAndGlyphs"  stroke="#6f6f6f" stroke-width="1.8" stroke-linejoin="round">45k</text>
<text x="165.5" y="1366.5" font-size="80" font-weight="normal" fill="#6f6f6f" textLength="108" lengthAdjust="spacingAndGlyphs"  stroke="#6f6f6f" stroke-width="1.8" stroke-linejoin="round">44k</text>
<text x="165.5" y="1784.5" font-size="80" font-weight="normal" fill="#6f6f6f" textLength="108" lengthAdjust="spacingAndGlyphs"  stroke="#6f6f6f" stroke-width="1.8" stroke-linejoin="round">43k</text>
<text x="164.5" y="2204" font-size="80" font-weight="normal" fill="#6f6f6f" textLength="109" lengthAdjust="spacingAndGlyphs"  stroke="#6f6f6f" stroke-width="1.8" stroke-linejoin="round">42k</text>
<text x="180.5" y="2624.5" font-size="80" font-weight="normal" fill="#6f6f6f" textLength="93" lengthAdjust="spacingAndGlyphs"  stroke="#6f6f6f" stroke-width="1.8" stroke-linejoin="round">41k</text>
<text x="160.5" y="3032" font-size="80" font-weight="normal" fill="#6f6f6f" textLength="113" lengthAdjust="spacingAndGlyphs"  stroke="#6f6f6f" stroke-width="1.8" stroke-linejoin="round">40k</text>
<text x="164.5" y="3450.5" font-size="80" font-weight="normal" fill="#6f6f6f" textLength="109" lengthAdjust="spacingAndGlyphs"  stroke="#6f6f6f" stroke-width="1.8" stroke-linejoin="round">39k</text>
<text x="312" y="3556" font-size="80" font-weight="normal" fill="#6f6f6f" textLength="171" lengthAdjust="spacingAndGlyphs"  stroke="#6f6f6f" stroke-width="1.8" stroke-linejoin="round">9. Jan</text>
<text x="721" y="3556" font-size="80" font-weight="normal" fill="#6f6f6f" textLength="154" lengthAdjust="spacingAndGlyphs"  stroke="#6f6f6f" stroke-width="1.8" stroke-linejoin="round">12:00</text>
<text x="1099" y="3556" font-size="80" font-weight="normal" fill="#6f6f6f" textLength="197" lengthAdjust="spacingAndGlyphs"  stroke="#6f6f6f" stroke-width="1.8" stroke-linejoin="round">10. Jan</text>
<text x="1521" y="3556" font-size="80" font-weight="normal" fill="#6f6f6f" textLength="154" lengthAdjust="spacingAndGlyphs"  stroke="#6f6f6f" stroke-width="1.8" stroke-linejoin="round">12:00</text>
<text x="1909" y="3556" font-size="80" font-weight="normal" fill="#6f6f6f" textLength="181" lengthAdjust="spacingAndGlyphs"  stroke="#6f6f6f" stroke-width="1.8" stroke-linejoin="round">11. Jan</text>
<text x="2321" y="3556" font-size="80" font-weight="normal" fill="#6f6f6f" textLength="155" lengthAdjust="spacingAndGlyphs"  stroke="#6f6f6f" stroke-width="1.8" stroke-linejoin="round">12:00</text>
<text x="2702" y="3556" font-size="80" font-weight="normal" fill="#6f6f6f" textLength="195" lengthAdjust="spacingAndGlyphs"  stroke="#6f6f6f" stroke-width="1.8" stroke-linejoin="round">12. Jan</text>
<text x="3120" y="3556" font-size="80" font-weight="normal" fill="#6f6f6f" textLength="156" lengthAdjust="spacingAndGlyphs"  stroke="#6f6f6f" stroke-width="1.8" stroke-linejoin="round">12:00</text>
<text x="3501" y="3556" font-size="80" font-weight="normal" fill="#6f6f6f" textLength="196" lengthAdjust="spacingAndGlyphs"  stroke="#6f6f6f" stroke-width="1.8" stroke-linejoin="round">13. Jan</text>
<text x="3921" y="3556" font-size="80" font-weight="normal" fill="#6f6f6f" textLength="156" lengthAdjust="spacingAndGlyphs"  stroke="#6f6f6f" stroke-width="1.8" stroke-linejoin="round">12:00</text>
<text x="4300" y="3556" font-size="80" font-weight="normal" fill="#6f6f6f" textLength="197" lengthAdjust="spacingAndGlyphs"  stroke="#6f6f6f" stroke-width="1.8" stroke-linejoin="round">14. Jan</text>
<text x="4708" y="3556" font-size="80" font-weight="normal" fill="#6f6f6f" textLength="156" lengthAdjust="spacingAndGlyphs"  stroke="#6f6f6f" stroke-width="1.8" stroke-linejoin="round">12:00</text>
<text x="4490" y="3650" font-size="66" font-weight="normal" fill="#adadad" textLength="377" lengthAdjust="spacingAndGlyphs"  stroke="#adadad" stroke-width="2.5" stroke-linejoin="round">Highcharts.com</text>
<text x="1293" y="2698" font-size="88" font-weight="normal" fill="#0e2e1a" stroke="#0e2e1a" stroke-opacity="0.6" stroke-width="8" stroke-linejoin="round" textLength="785" lengthAdjust="spacingAndGlyphs">10 Jan 2022, 14:29 GMT</text>
<text x="1293" y="2698" font-size="88" font-weight="normal" fill="#fff" stroke="#fff" stroke-width="3" stroke-linejoin="round" textLength="785" lengthAdjust="spacingAndGlyphs">10 Jan 2022, 14:29 GMT</text>
<text x="1356" y="2893" font-size="184" font-weight="bold" fill="#0e2e1a" stroke="#0e2e1a" stroke-opacity="0.6" stroke-width="10" stroke-linejoin="round" textLength="659" lengthAdjust="spacingAndGlyphs">39,919.67</text>
<text x="1356" y="2893" font-size="184" font-weight="bold" fill="#fff" stroke="#fff" stroke-width="6" stroke-linejoin="round" textLength="659" lengthAdjust="spacingAndGlyphs">39,919.67</text>
<g fill="#a69d34">
<ellipse cx="4109.7" cy="2998.7" rx="19.9" ry="22.4"/>
<ellipse cx="4154.9" cy="2998.7" rx="19.9" ry="22.4"/>
<ellipse cx="4201.9" cy="2998.7" rx="19.9" ry="22.4"/>
<ellipse cx="4109.7" cy="3063.8" rx="18.1" ry="22.4"/>
<ellipse cx="4109.7" cy="3128.9" rx="19.9" ry="24.6"/>
<ellipse cx="4154.9" cy="3128.9" rx="21.0" ry="25.3"/>
<rect x="4092.7" y="2998.7" width="26.8" height="130.2"/>
<rect x="4109.7" y="2984.2" width="92.2" height="30.7"/>
<rect x="4109.7" y="3112.6" width="45.2" height="34.4"/>
<ellipse cx="4155.6" cy="3064.5" rx="7" ry="9"/>
<ellipse cx="4203.7" cy="3064.5" rx="7" ry="9"/>
<ellipse cx="4203.7" cy="3129.6" rx="7" ry="9"/>
</g>
<text x="4243.5" y="3127" font-size="172" font-weight="bold" fill="#8fb399" textLength="542.5" lengthAdjust="spacingAndGlyphs"  stroke="#8fb399" stroke-width="3" stroke-linejoin="round">CoinDesk</text>
<g fill="#00d964"><rect x="115.4" y="82.7" width="9.5" height="104.3"/><rect x="115.4" y="178.6" width="94.6" height="8.4"/><polygon points="124.9,171 153,124 170.8,150.8 208.7,100 208.7,171"/></g>
<rect x="277" y="94" width="194" height="100" rx="42" ry="50" fill="#8b8b8b"/>
<ellipse cx="317" cy="151" rx="60" ry="72" fill="#000" fill-opacity="0.45" filter="url(#ksh)"/>
<ellipse cx="317" cy="143" rx="58" ry="71" fill="#fff"/>
<rect x="1389" y="93" width="203" height="100" rx="42" ry="50" fill="#8b8b8b"/>
<ellipse cx="1429" cy="150" rx="60" ry="72" fill="#000" fill-opacity="0.45" filter="url(#ksh)"/>
<ellipse cx="1429" cy="142" rx="58" ry="71" fill="#fff"/>
<g fill="#fff"><rect x="536" y="138" width="22.4" height="57" rx="8" ry="10"/><rect x="564.7" y="82.7" width="20.6" height="96.3" rx="9" ry="11"/><rect x="594.8" y="119" width="20.6" height="76" rx="8" ry="10"/></g>
<text x="1082" y="191" font-size="102" font-weight="bold" fill="#00d964" textLength="243" lengthAdjust="spacingAndGlyphs"  stroke="#00d964" stroke-width="2" stroke-linejoin="round">Linear</text>
<text x="1653" y="191" font-size="102" font-weight="bold" fill="#fff" textLength="142" lengthAdjust="spacingAndGlyphs"  stroke="#fff" stroke-width="2" stroke-linejoin="round">Log</text>
<text x="2701" y="189" font-size="118" font-weight="normal" fill="#fff" textLength="97" lengthAdjust="spacingAndGlyphs"  stroke="#fff" stroke-width="3.6" stroke-linejoin="round">1H</text>
<text x="2969" y="189" font-size="118" font-weight="normal" fill="#fff" textLength="122" lengthAdjust="spacingAndGlyphs"  stroke="#fff" stroke-width="3.6" stroke-linejoin="round">4H</text>
<text x="3255" y="189" font-size="118" font-weight="normal" fill="#fff" textLength="103" lengthAdjust="spacingAndGlyphs"  stroke="#fff" stroke-width="3.6" stroke-linejoin="round">1D</text>
<text x="3524" y="189" font-size="118" font-weight="normal" fill="#fff" textLength="122" lengthAdjust="spacingAndGlyphs"  stroke="#fff" stroke-width="3.6" stroke-linejoin="round">1W</text>
<text x="3812" y="189" font-size="118" font-weight="normal" fill="#fff" textLength="112" lengthAdjust="spacingAndGlyphs"  stroke="#fff" stroke-width="3.6" stroke-linejoin="round">1M</text>
<text x="4092" y="189" font-size="118" font-weight="normal" fill="#fff" textLength="94" lengthAdjust="spacingAndGlyphs"  stroke="#fff" stroke-width="3.6" stroke-linejoin="round">1Y</text>
<text x="4353" y="189" font-size="118" font-weight="normal" fill="#fff" textLength="172" lengthAdjust="spacingAndGlyphs"  stroke="#fff" stroke-width="3.6" stroke-linejoin="round">ALL</text>
<g fill="none" stroke="#fff" stroke-width="12" stroke-linecap="round" stroke-linejoin="round"><path d="M4818 146 V184 Q4818 196 4830 196 H4899 Q4911 196 4911 184 V146"/><path d="M4865 76 V164 M4841 140 L4865 166 L4889 140"/></g>
<g fill="none" stroke="#fff" stroke-width="14" stroke-linejoin="round"><rect x="118" y="424" width="107" height="133" rx="10" ry="12"/></g>
<rect x="118" y="424" width="107" height="34" fill="#fff"/><rect x="127" y="403" width="11" height="30" fill="#fff"/><rect x="203" y="403" width="11" height="30" fill="#fff"/>
<g clip-path="url(#dclip)">
<text x="309.5" y="520.6" font-size="120" font-weight="normal" fill="#fff" textLength="517" lengthAdjust="spacingAndGlyphs"  stroke="#fff" stroke-width="3.4" stroke-linejoin="round">01/09/2022</text>
</g>
<text x="865" y="520.6" font-size="102" font-weight="bold" fill="#fff" textLength="116" lengthAdjust="spacingAndGlyphs"  stroke="#fff" stroke-width="2" stroke-linejoin="round">TO</text>
<text x="1040" y="520.6" font-size="120" font-weight="normal" fill="#fff" textLength="492" lengthAdjust="spacingAndGlyphs"  stroke="#fff" stroke-width="3.4" stroke-linejoin="round">01/14/2022</text>
</svg>
</body></html>
